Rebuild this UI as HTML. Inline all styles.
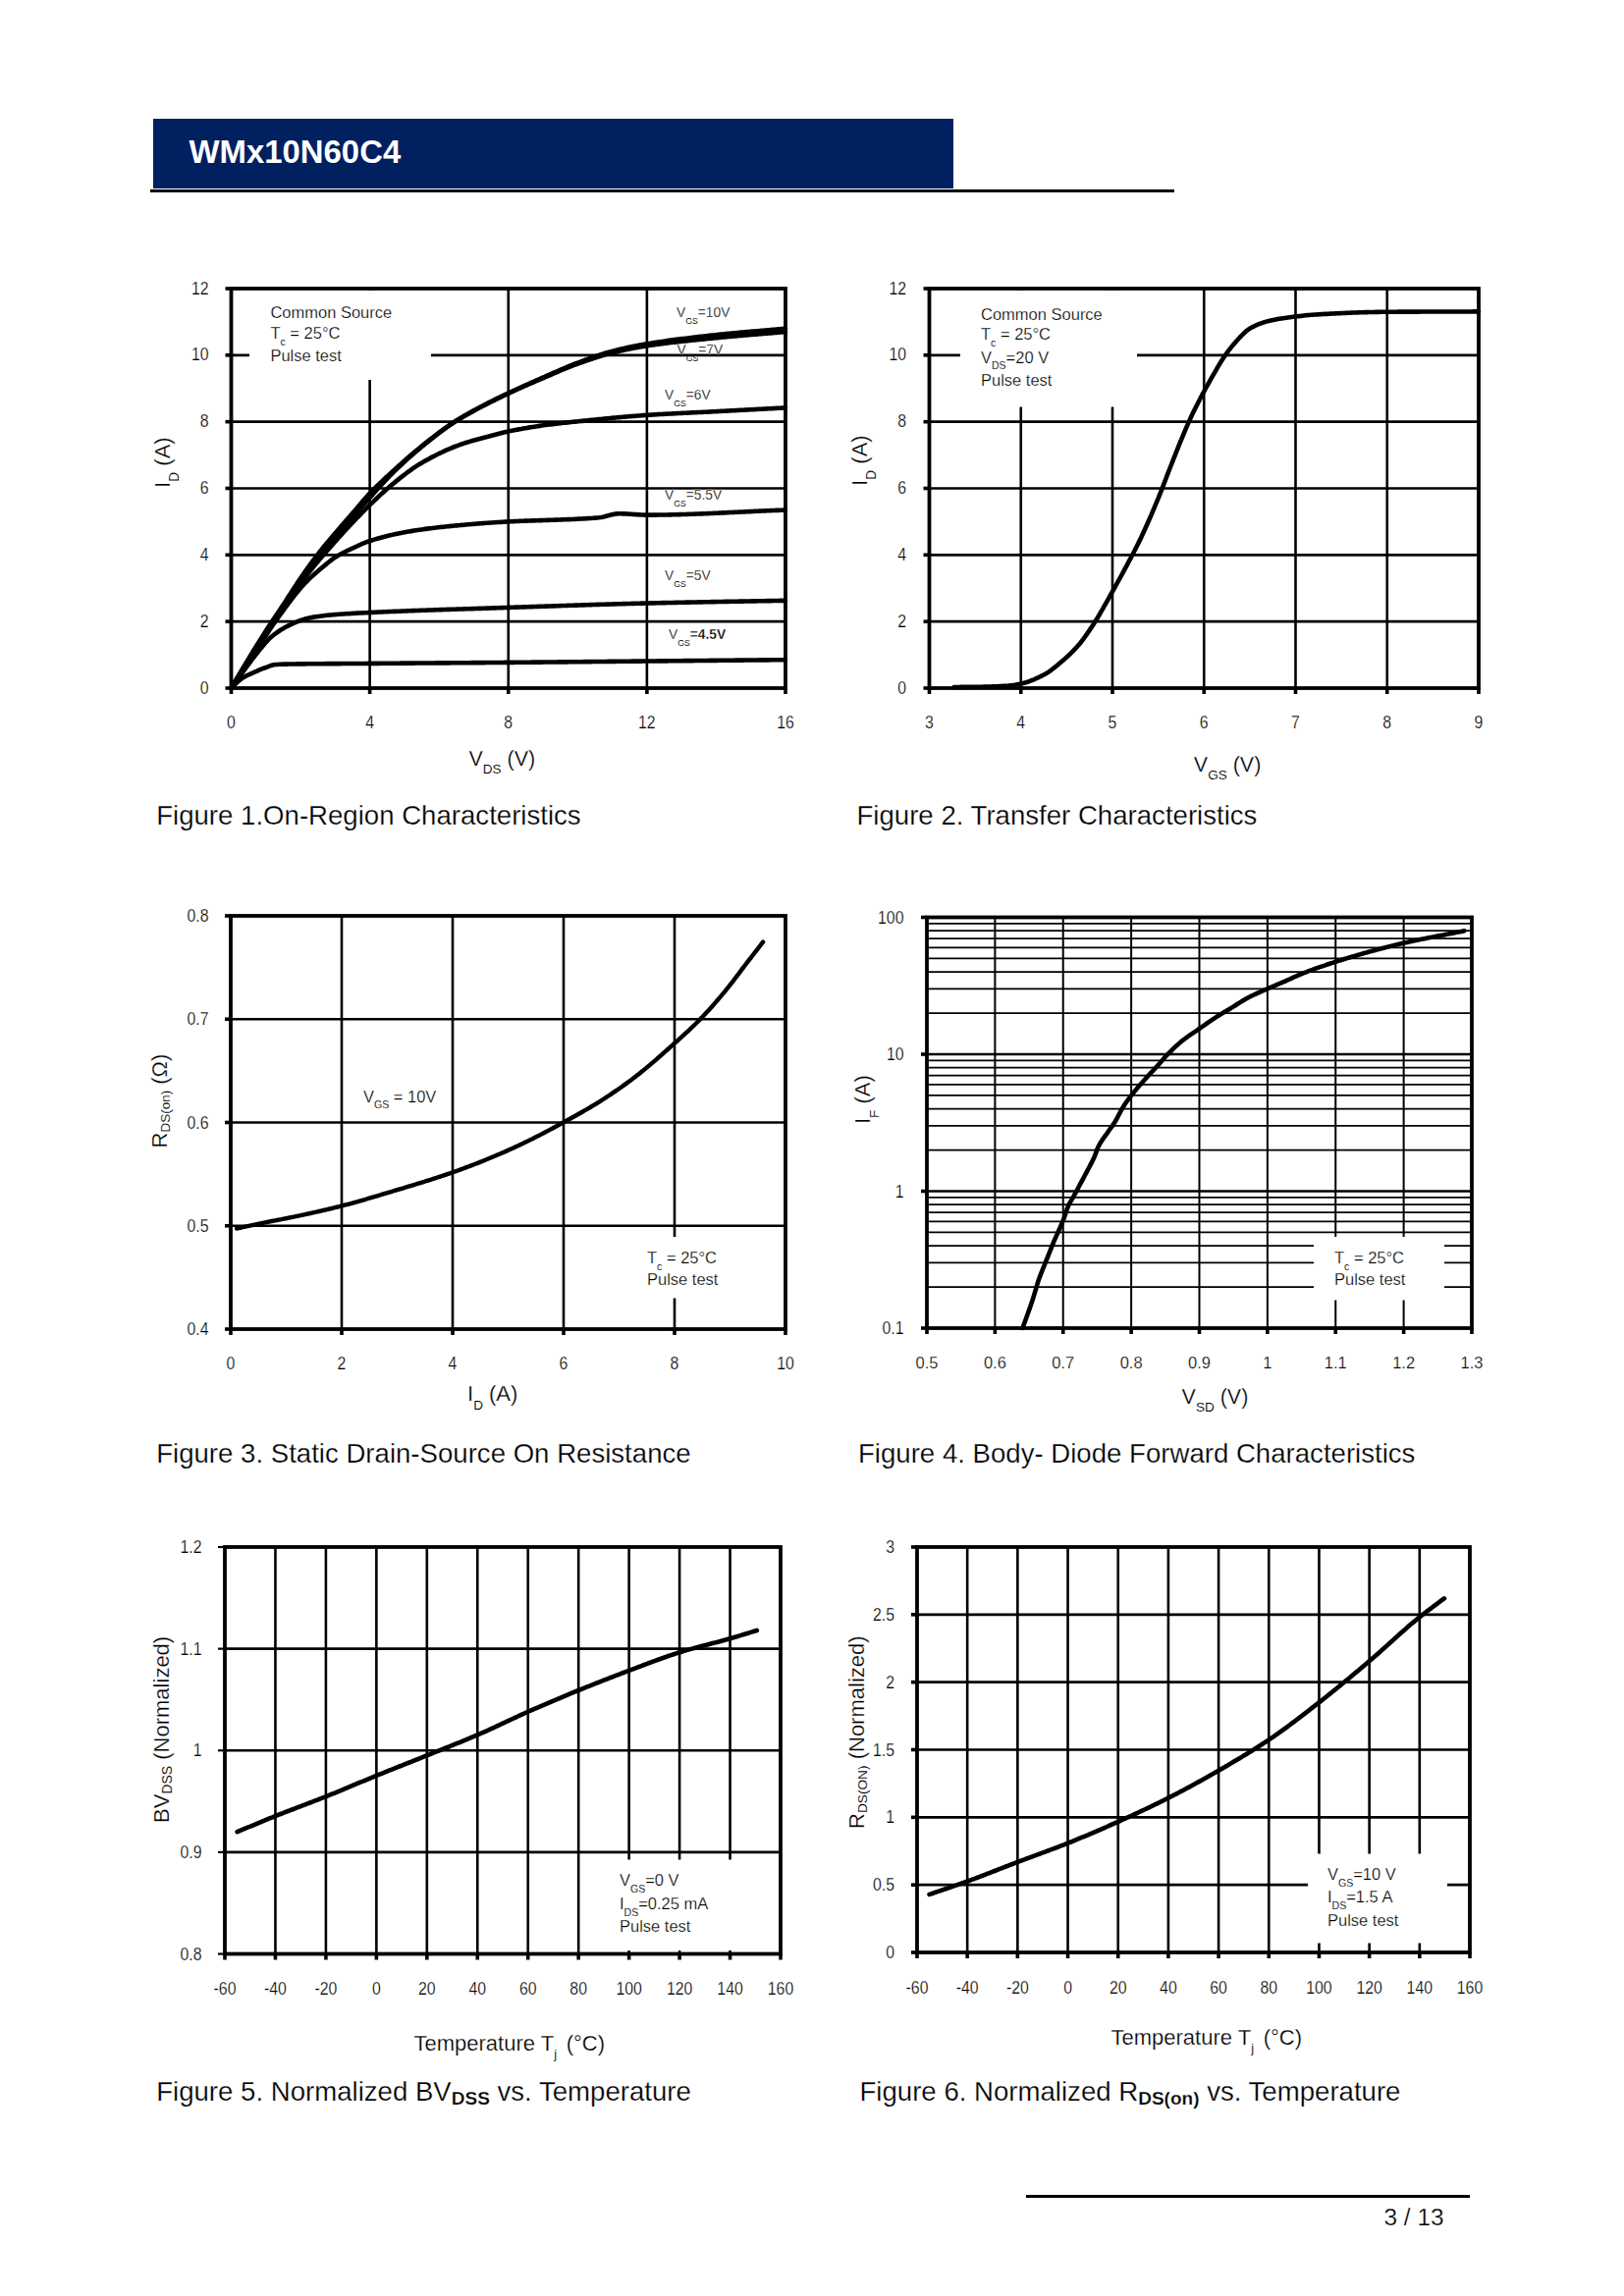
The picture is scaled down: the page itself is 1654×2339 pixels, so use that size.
<!DOCTYPE html><html><head><meta charset="utf-8"><title>WMx10N60C4</title><style>html,body{margin:0;padding:0;background:#fff;}body{width:1654px;height:2339px;overflow:hidden;position:relative;font-family:"Liberation Sans", sans-serif;}svg{position:absolute;left:0;top:0;}text{font-family:"Liberation Sans", sans-serif;fill:#000;}</style></head><body>
<svg width="1654" height="2339" viewBox="0 0 1654 2339">
<rect x="156" y="121" width="815" height="71" fill="#002060"/>
<rect x="153" y="193" width="1043" height="3" fill="#000"/>
<text x="192.5" y="166.3" font-size="32.9" font-weight="bold" style="fill:#fff">WMx10N60C4</text>
<rect x="1045" y="2236" width="452" height="3" fill="#000"/>
<text x="1409.5" y="2266.5" font-size="24.4" stroke="#fff" stroke-width="0.25">3 / 13</text>
<line x1="376.62" y1="294" x2="376.62" y2="701" stroke="#000" stroke-width="2.6"/>
<line x1="517.75" y1="294" x2="517.75" y2="701" stroke="#000" stroke-width="2.6"/>
<line x1="658.88" y1="294" x2="658.88" y2="701" stroke="#000" stroke-width="2.6"/>
<line x1="235.5" y1="633.17" x2="800" y2="633.17" stroke="#000" stroke-width="2.6"/>
<line x1="235.5" y1="565.33" x2="800" y2="565.33" stroke="#000" stroke-width="2.6"/>
<line x1="235.5" y1="497.5" x2="800" y2="497.5" stroke="#000" stroke-width="2.6"/>
<line x1="235.5" y1="429.67" x2="800" y2="429.67" stroke="#000" stroke-width="2.6"/>
<line x1="235.5" y1="361.83" x2="800" y2="361.83" stroke="#000" stroke-width="2.6"/>
<rect x="254" y="296" width="185" height="91" fill="#fff"/>
<rect x="235.5" y="294" width="564.5" height="407" fill="none" stroke="#000" stroke-width="3.8"/>
<line x1="235.5" y1="701" x2="235.5" y2="707" stroke="#000" stroke-width="3.6"/>
<line x1="376.62" y1="701" x2="376.62" y2="707" stroke="#000" stroke-width="3.6"/>
<line x1="517.75" y1="701" x2="517.75" y2="707" stroke="#000" stroke-width="3.6"/>
<line x1="658.88" y1="701" x2="658.88" y2="707" stroke="#000" stroke-width="3.6"/>
<line x1="800" y1="701" x2="800" y2="707" stroke="#000" stroke-width="3.6"/>
<line x1="229.5" y1="701" x2="235.5" y2="701" stroke="#000" stroke-width="3.6"/>
<line x1="229.5" y1="633.17" x2="235.5" y2="633.17" stroke="#000" stroke-width="3.6"/>
<line x1="229.5" y1="565.33" x2="235.5" y2="565.33" stroke="#000" stroke-width="3.6"/>
<line x1="229.5" y1="497.5" x2="235.5" y2="497.5" stroke="#000" stroke-width="3.6"/>
<line x1="229.5" y1="429.67" x2="235.5" y2="429.67" stroke="#000" stroke-width="3.6"/>
<line x1="229.5" y1="361.83" x2="235.5" y2="361.83" stroke="#000" stroke-width="3.6"/>
<line x1="229.5" y1="294" x2="235.5" y2="294" stroke="#000" stroke-width="3.6"/>
<path d="M235.5 701 L237.38 697.81 L239.26 694.61 L241.15 691.4 L243.03 688.19 L244.91 684.98 L246.79 681.79 L248.67 678.61 L250.55 675.45 L252.44 672.32 L254.32 669.22 L256.2 666.12 L258.08 663.04 L259.96 659.97 L261.84 656.92 L263.73 653.88 L265.61 650.87 L267.49 647.87 L269.37 644.9 L271.25 641.96 L273.13 639.04 L275.01 636.17 L276.9 633.34 L278.78 630.54 L280.66 627.76 L282.54 624.98 L284.42 622.19 L286.31 619.39 L288.19 616.56 L290.07 613.69 L291.95 610.79 L293.83 607.85 L295.71 604.91 L297.6 601.96 L299.48 599.03 L301.36 596.13 L303.24 593.26 L305.12 590.45 L307 587.71 L308.88 584.99 L310.77 582.29 L312.65 579.63 L314.53 576.99 L316.41 574.39 L318.29 571.82 L320.18 569.29 L322.06 566.8 L323.94 564.35 L325.82 561.95 L327.7 559.6 L329.58 557.28 L331.47 555 L333.35 552.74 L335.23 550.51 L337.11 548.28 L338.99 546.06 L340.87 543.84 L342.75 541.63 L344.64 539.43 L346.52 537.25 L348.4 535.08 L350.28 532.92 L352.16 530.76 L354.05 528.61 L355.93 526.45 L357.81 524.29 L359.69 522.12 L361.57 519.92 L363.45 517.7 L365.34 515.46 L367.22 513.23 L369.1 511.02 L370.98 508.84 L372.86 506.69 L374.74 504.61 L376.62 502.59 L378.51 500.63 L380.39 498.71 L382.27 496.82 L384.15 494.96 L386.03 493.14 L387.92 491.34 L389.8 489.56 L391.68 487.8 L393.56 486.05 L395.44 484.32 L397.32 482.59 L399.2 480.86 L401.09 479.14 L402.97 477.43 L404.85 475.73 L406.73 474.03 L408.61 472.34 L410.5 470.67 L412.38 469 L414.26 467.35 L416.14 465.71 L418.02 464.08 L419.9 462.47 L421.78 460.87 L423.67 459.3 L425.55 457.74 L427.43 456.19 L429.31 454.67 L431.19 453.16 L433.07 451.65 L434.96 450.15 L436.84 448.66 L438.72 447.17 L440.6 445.7 L442.48 444.24 L444.37 442.8 L446.25 441.37 L448.13 439.96 L450.01 438.56 L451.89 437.19 L453.77 435.84 L455.65 434.52 L457.54 433.21 L459.42 431.94 L461.3 430.69 L463.18 429.48 L465.06 428.29 L466.94 427.13 L468.83 425.99 L470.71 424.87 L472.59 423.77 L474.47 422.69 L476.35 421.63 L478.24 420.58 L480.12 419.55 L482 418.52 L483.88 417.5 L485.76 416.49 L487.64 415.48 L489.52 414.48 L491.41 413.5 L493.29 412.52 L495.17 411.55 L497.05 410.59 L498.93 409.64 L500.81 408.7 L502.7 407.76 L504.58 406.84 L506.46 405.92 L508.34 405 L510.22 404.09 L512.11 403.19 L513.99 402.29 L515.87 401.39 L517.75 400.5 L519.63 399.61 L521.51 398.73 L523.39 397.85 L525.28 396.97 L527.16 396.11 L529.04 395.24 L530.92 394.39 L532.8 393.53 L534.68 392.68 L536.57 391.83 L538.45 390.99 L540.33 390.15 L542.21 389.32 L544.09 388.48 L545.98 387.65 L547.86 386.82 L549.74 386 L551.62 385.17 L553.5 384.35 L555.38 383.53 L557.26 382.7 L559.15 381.87 L561.03 381.04 L562.91 380.21 L564.79 379.38 L566.67 378.56 L568.56 377.74 L570.44 376.92 L572.32 376.11 L574.2 375.31 L576.08 374.52 L577.96 373.73 L579.85 372.96 L581.73 372.2 L583.61 371.45 L585.49 370.71 L587.37 369.99 L589.25 369.28 L591.13 368.58 L593.02 367.87 L594.9 367.17 L596.78 366.48 L598.66 365.79 L600.54 365.11 L602.42 364.43 L604.31 363.77 L606.19 363.11 L608.07 362.47 L609.95 361.84 L611.83 361.22 L613.72 360.62 L615.6 360.03 L617.48 359.47 L619.36 358.92 L621.24 358.39 L623.12 357.89 L625 357.4 L626.89 356.92 L628.77 356.46 L630.65 356 L632.53 355.55 L634.41 355.12 L636.29 354.69 L638.18 354.27 L640.06 353.87 L641.94 353.47 L643.82 353.08 L645.7 352.7 L647.59 352.33 L649.47 351.97 L651.35 351.62 L653.23 351.27 L655.11 350.94 L656.99 350.62 L658.88 350.3 L660.76 349.99 L662.64 349.69 L664.52 349.39 L666.4 349.1 L668.28 348.81 L670.16 348.52 L672.05 348.24 L673.93 347.96 L675.81 347.69 L677.69 347.42 L679.57 347.15 L681.46 346.89 L683.34 346.63 L685.22 346.38 L687.1 346.13 L688.98 345.88 L690.86 345.63 L692.75 345.39 L694.63 345.15 L696.51 344.92 L698.39 344.68 L700.27 344.45 L702.15 344.22 L704.03 344 L705.92 343.78 L707.8 343.55 L709.68 343.34 L711.56 343.12 L713.44 342.9 L715.33 342.69 L717.21 342.48 L719.09 342.27 L720.97 342.06 L722.85 341.86 L724.73 341.65 L726.62 341.45 L728.5 341.25 L730.38 341.04 L732.26 340.85 L734.14 340.65 L736.02 340.46 L737.9 340.27 L739.79 340.08 L741.67 339.89 L743.55 339.71 L745.43 339.53 L747.31 339.35 L749.2 339.18 L751.08 339 L752.96 338.83 L754.84 338.66 L756.72 338.49 L758.6 338.32 L760.49 338.15 L762.37 337.99 L764.25 337.82 L766.13 337.66 L768.01 337.5 L769.89 337.33 L771.77 337.17 L773.66 337.01 L775.54 336.85 L777.42 336.68 L779.3 336.52 L781.18 336.36 L783.06 336.2 L784.95 336.03 L786.83 335.87 L788.71 335.71 L790.59 335.54 L792.47 335.38 L794.36 335.21 L796.24 335.04 L798.12 334.87 L800 334.7" fill="none" stroke="#000" stroke-width="4.6" stroke-linecap="round" stroke-linejoin="round"/>
<path d="M235.5 701 L237.38 697.91 L239.26 694.81 L241.15 691.7 L243.03 688.59 L244.91 685.49 L246.79 682.4 L248.67 679.33 L250.55 676.29 L252.44 673.29 L254.32 670.33 L256.2 667.41 L258.08 664.53 L259.96 661.67 L261.84 658.83 L263.73 656.01 L265.61 653.18 L267.49 650.35 L269.37 647.51 L271.25 644.65 L273.13 641.76 L275.01 638.83 L276.9 635.89 L278.78 632.93 L280.66 629.96 L282.54 627.01 L284.42 624.06 L286.31 621.15 L288.19 618.26 L290.07 615.4 L291.95 612.55 L293.83 609.71 L295.71 606.89 L297.6 604.08 L299.48 601.3 L301.36 598.54 L303.24 595.81 L305.12 593.12 L307 590.46 L308.88 587.83 L310.77 585.21 L312.65 582.62 L314.53 580.05 L316.41 577.51 L318.29 575.01 L320.18 572.55 L322.06 570.13 L323.94 567.75 L325.82 565.43 L327.7 563.15 L329.58 560.91 L331.47 558.71 L333.35 556.53 L335.23 554.37 L337.11 552.21 L338.99 550.06 L340.87 547.9 L342.75 545.74 L344.64 543.59 L346.52 541.45 L348.4 539.32 L350.28 537.2 L352.16 535.08 L354.05 532.96 L355.93 530.83 L357.81 528.69 L359.69 526.54 L361.57 524.37 L363.45 522.18 L365.34 519.99 L367.22 517.8 L369.1 515.61 L370.98 513.43 L372.86 511.26 L374.74 509.11 L376.62 507 L378.51 504.89 L380.39 502.79 L382.27 500.69 L384.15 498.59 L386.03 496.51 L387.92 494.44 L389.8 492.39 L391.68 490.37 L393.56 488.37 L395.44 486.4 L397.32 484.48 L399.2 482.59 L401.09 480.73 L402.97 478.9 L404.85 477.09 L406.73 475.3 L408.61 473.53 L410.5 471.78 L412.38 470.05 L414.26 468.34 L416.14 466.65 L418.02 464.98 L419.9 463.33 L421.78 461.7 L423.67 460.08 L425.55 458.49 L427.43 456.91 L429.31 455.35 L431.19 453.8 L433.07 452.26 L434.96 450.72 L436.84 449.2 L438.72 447.69 L440.6 446.2 L442.48 444.72 L444.37 443.25 L446.25 441.8 L448.13 440.38 L450.01 438.97 L451.89 437.58 L453.77 436.22 L455.65 434.88 L457.54 433.57 L459.42 432.29 L461.3 431.04 L463.18 429.81 L465.06 428.62 L466.94 427.45 L468.83 426.31 L470.71 425.2 L472.59 424.1 L474.47 423.02 L476.35 421.96 L478.24 420.91 L480.12 419.88 L482 418.86 L483.88 417.84 L485.76 416.83 L487.64 415.82 L489.52 414.82 L491.41 413.83 L493.29 412.85 L495.17 411.88 L497.05 410.92 L498.93 409.97 L500.81 409.02 L502.7 408.08 L504.58 407.15 L506.46 406.23 L508.34 405.32 L510.22 404.41 L512.11 403.51 L513.99 402.61 L515.87 401.72 L517.75 400.84 L519.63 399.96 L521.51 399.09 L523.39 398.22 L525.28 397.37 L527.16 396.51 L529.04 395.67 L530.92 394.83 L532.8 393.99 L534.68 393.16 L536.57 392.34 L538.45 391.51 L540.33 390.7 L542.21 389.88 L544.09 389.07 L545.98 388.26 L547.86 387.45 L549.74 386.64 L551.62 385.84 L553.5 385.03 L555.38 384.23 L557.26 383.42 L559.15 382.6 L561.03 381.79 L562.91 380.97 L564.79 380.16 L566.67 379.35 L568.56 378.54 L570.44 377.74 L572.32 376.95 L574.2 376.16 L576.08 375.38 L577.96 374.62 L579.85 373.86 L581.73 373.12 L583.61 372.4 L585.49 371.69 L587.37 370.99 L589.25 370.31 L591.13 369.64 L593.02 368.97 L594.9 368.31 L596.78 367.65 L598.66 367 L600.54 366.36 L602.42 365.72 L604.31 365.1 L606.19 364.48 L608.07 363.88 L609.95 363.29 L611.83 362.71 L613.72 362.15 L615.6 361.6 L617.48 361.07 L619.36 360.55 L621.24 360.05 L623.12 359.58 L625 359.11 L626.89 358.66 L628.77 358.21 L630.65 357.78 L632.53 357.35 L634.41 356.93 L636.29 356.51 L638.18 356.11 L640.06 355.72 L641.94 355.33 L643.82 354.96 L645.7 354.6 L647.59 354.24 L649.47 353.9 L651.35 353.56 L653.23 353.24 L655.11 352.93 L656.99 352.63 L658.88 352.34 L660.76 352.05 L662.64 351.78 L664.52 351.51 L666.4 351.24 L668.28 350.98 L670.16 350.72 L672.05 350.47 L673.93 350.22 L675.81 349.98 L677.69 349.74 L679.57 349.51 L681.46 349.27 L683.34 349.05 L685.22 348.82 L687.1 348.6 L688.98 348.39 L690.86 348.17 L692.75 347.96 L694.63 347.75 L696.51 347.55 L698.39 347.34 L700.27 347.14 L702.15 346.94 L704.03 346.74 L705.92 346.55 L707.8 346.36 L709.68 346.16 L711.56 345.97 L713.44 345.78 L715.33 345.59 L717.21 345.41 L719.09 345.22 L720.97 345.03 L722.85 344.85 L724.73 344.66 L726.62 344.48 L728.5 344.29 L730.38 344.1 L732.26 343.92 L734.14 343.74 L736.02 343.56 L737.9 343.38 L739.79 343.21 L741.67 343.04 L743.55 342.86 L745.43 342.69 L747.31 342.53 L749.2 342.36 L751.08 342.2 L752.96 342.03 L754.84 341.87 L756.72 341.71 L758.6 341.55 L760.49 341.39 L762.37 341.23 L764.25 341.07 L766.13 340.92 L768.01 340.76 L769.89 340.61 L771.77 340.45 L773.66 340.29 L775.54 340.14 L777.42 339.98 L779.3 339.83 L781.18 339.67 L783.06 339.52 L784.95 339.36 L786.83 339.21 L788.71 339.05 L790.59 338.89 L792.47 338.73 L794.36 338.57 L796.24 338.41 L798.12 338.25 L800 338.09" fill="none" stroke="#000" stroke-width="4.6" stroke-linecap="round" stroke-linejoin="round"/>
<path d="M235.5 701 L237.38 697.95 L239.26 694.89 L241.15 691.81 L243.03 688.74 L244.91 685.67 L246.79 682.62 L248.67 679.59 L250.55 676.58 L252.44 673.61 L254.32 670.69 L256.2 667.8 L258.08 664.95 L259.96 662.13 L261.84 659.32 L263.73 656.53 L265.61 653.74 L267.49 650.94 L269.37 648.13 L271.25 645.3 L273.13 642.45 L275.01 639.55 L276.9 636.63 L278.78 633.69 L280.66 630.75 L282.54 627.83 L284.42 624.93 L286.31 622.07 L288.19 619.27 L290.07 616.51 L291.95 613.78 L293.83 611.07 L295.71 608.38 L297.6 605.72 L299.48 603.09 L301.36 600.5 L303.24 597.94 L305.12 595.41 L307 592.92 L308.88 590.47 L310.77 588.05 L312.65 585.67 L314.53 583.31 L316.41 580.98 L318.29 578.66 L320.18 576.37 L322.06 574.1 L323.94 571.83 L325.82 569.59 L327.7 567.37 L329.58 565.17 L331.47 562.99 L333.35 560.83 L335.23 558.68 L337.11 556.54 L338.99 554.42 L340.87 552.3 L342.75 550.18 L344.64 548.08 L346.52 545.98 L348.4 543.89 L350.28 541.82 L352.16 539.76 L354.05 537.72 L355.93 535.69 L357.81 533.68 L359.69 531.69 L361.57 529.71 L363.45 527.74 L365.34 525.79 L367.22 523.85 L369.1 521.93 L370.98 520.03 L372.86 518.15 L374.74 516.29 L376.62 514.46 L378.51 512.64 L380.39 510.82 L382.27 509.02 L384.15 507.22 L386.03 505.44 L387.92 503.68 L389.8 501.94 L391.68 500.23 L393.56 498.55 L395.44 496.9 L397.32 495.29 L399.2 493.72 L401.09 492.18 L402.97 490.65 L404.85 489.13 L406.73 487.63 L408.61 486.14 L410.5 484.66 L412.38 483.22 L414.26 481.79 L416.14 480.4 L418.02 479.03 L419.9 477.7 L421.78 476.41 L423.67 475.15 L425.55 473.94 L427.43 472.77 L429.31 471.65 L431.19 470.57 L433.07 469.5 L434.96 468.44 L436.84 467.41 L438.72 466.39 L440.6 465.4 L442.48 464.42 L444.37 463.46 L446.25 462.52 L448.13 461.6 L450.01 460.7 L451.89 459.82 L453.77 458.96 L455.65 458.12 L457.54 457.31 L459.42 456.52 L461.3 455.75 L463.18 455 L465.06 454.28 L466.94 453.58 L468.83 452.9 L470.71 452.25 L472.59 451.63 L474.47 451.02 L476.35 450.44 L478.24 449.87 L480.12 449.33 L482 448.79 L483.88 448.27 L485.76 447.75 L487.64 447.25 L489.52 446.74 L491.41 446.25 L493.29 445.75 L495.17 445.25 L497.05 444.75 L498.93 444.24 L500.81 443.73 L502.7 443.22 L504.58 442.72 L506.46 442.22 L508.34 441.73 L510.22 441.25 L512.11 440.78 L513.99 440.34 L515.87 439.91 L517.75 439.5 L519.63 439.11 L521.51 438.73 L523.39 438.36 L525.28 437.99 L527.16 437.63 L529.04 437.28 L530.92 436.93 L532.8 436.59 L534.68 436.26 L536.57 435.94 L538.45 435.62 L540.33 435.31 L542.21 435.01 L544.09 434.71 L545.98 434.42 L547.86 434.14 L549.74 433.86 L551.62 433.59 L553.5 433.33 L555.38 433.08 L557.26 432.83 L559.15 432.59 L561.03 432.35 L562.91 432.12 L564.79 431.89 L566.67 431.67 L568.56 431.45 L570.44 431.23 L572.32 431.02 L574.2 430.82 L576.08 430.61 L577.96 430.41 L579.85 430.21 L581.73 430.01 L583.61 429.81 L585.49 429.62 L587.37 429.42 L589.25 429.23 L591.13 429.04 L593.02 428.84 L594.9 428.65 L596.78 428.45 L598.66 428.26 L600.54 428.07 L602.42 427.88 L604.31 427.68 L606.19 427.49 L608.07 427.3 L609.95 427.11 L611.83 426.93 L613.72 426.74 L615.6 426.56 L617.48 426.37 L619.36 426.19 L621.24 426.01 L623.12 425.83 L625 425.65 L626.89 425.48 L628.77 425.3 L630.65 425.13 L632.53 424.96 L634.41 424.8 L636.29 424.63 L638.18 424.47 L640.06 424.31 L641.94 424.15 L643.82 424 L645.7 423.85 L647.59 423.7 L649.47 423.56 L651.35 423.42 L653.23 423.28 L655.11 423.14 L656.99 423.01 L658.88 422.88 L660.76 422.76 L662.64 422.64 L664.52 422.52 L666.4 422.4 L668.28 422.29 L670.16 422.17 L672.05 422.06 L673.93 421.96 L675.81 421.85 L677.69 421.75 L679.57 421.64 L681.46 421.54 L683.34 421.44 L685.22 421.34 L687.1 421.25 L688.98 421.15 L690.86 421.06 L692.75 420.96 L694.63 420.87 L696.51 420.78 L698.39 420.69 L700.27 420.59 L702.15 420.5 L704.03 420.41 L705.92 420.32 L707.8 420.23 L709.68 420.14 L711.56 420.05 L713.44 419.96 L715.33 419.87 L717.21 419.77 L719.09 419.68 L720.97 419.59 L722.85 419.49 L724.73 419.4 L726.62 419.3 L728.5 419.2 L730.38 419.1 L732.26 419 L734.14 418.9 L736.02 418.8 L737.9 418.7 L739.79 418.61 L741.67 418.51 L743.55 418.41 L745.43 418.31 L747.31 418.21 L749.2 418.11 L751.08 418.01 L752.96 417.91 L754.84 417.81 L756.72 417.71 L758.6 417.61 L760.49 417.51 L762.37 417.41 L764.25 417.31 L766.13 417.21 L768.01 417.11 L769.89 417.01 L771.77 416.91 L773.66 416.81 L775.54 416.72 L777.42 416.62 L779.3 416.52 L781.18 416.42 L783.06 416.32 L784.95 416.22 L786.83 416.12 L788.71 416.02 L790.59 415.92 L792.47 415.82 L794.36 415.72 L796.24 415.62 L798.12 415.52 L800 415.42" fill="none" stroke="#000" stroke-width="4.6" stroke-linecap="round" stroke-linejoin="round"/>
<path d="M235.5 701 L237.38 698.1 L239.26 695.2 L241.15 692.3 L243.03 689.39 L244.91 686.49 L246.79 683.59 L248.67 680.7 L250.55 677.81 L252.44 674.94 L254.32 672.08 L256.2 669.22 L258.08 666.36 L259.96 663.5 L261.84 660.66 L263.73 657.82 L265.61 654.99 L267.49 652.18 L269.37 649.38 L271.25 646.6 L273.13 643.84 L275.01 641.08 L276.9 638.32 L278.78 635.57 L280.66 632.85 L282.54 630.15 L284.42 627.48 L286.31 624.86 L288.19 622.29 L290.07 619.75 L291.95 617.21 L293.83 614.67 L295.71 612.15 L297.6 609.66 L299.48 607.21 L301.36 604.82 L303.24 602.48 L305.12 600.21 L307 598.03 L308.88 595.94 L310.77 593.95 L312.65 592.03 L314.53 590.18 L316.41 588.39 L318.29 586.65 L320.18 584.96 L322.06 583.31 L323.94 581.68 L325.82 580.09 L327.7 578.51 L329.58 576.93 L331.47 575.36 L333.35 573.82 L335.23 572.31 L337.11 570.85 L338.99 569.45 L340.87 568.14 L342.75 566.91 L344.64 565.77 L346.52 564.7 L348.4 563.68 L350.28 562.7 L352.16 561.77 L354.05 560.86 L355.93 559.97 L357.81 559.1 L359.69 558.22 L361.57 557.35 L363.45 556.47 L365.34 555.61 L367.22 554.77 L369.1 553.95 L370.98 553.17 L372.86 552.42 L374.74 551.73 L376.62 551.09 L378.51 550.49 L380.39 549.9 L382.27 549.33 L384.15 548.78 L386.03 548.24 L387.92 547.72 L389.8 547.21 L391.68 546.72 L393.56 546.24 L395.44 545.77 L397.32 545.32 L399.2 544.88 L401.09 544.46 L402.97 544.05 L404.85 543.65 L406.73 543.26 L408.61 542.89 L410.5 542.53 L412.38 542.18 L414.26 541.85 L416.14 541.52 L418.02 541.19 L419.9 540.88 L421.78 540.57 L423.67 540.28 L425.55 539.99 L427.43 539.7 L429.31 539.43 L431.19 539.16 L433.07 538.9 L434.96 538.65 L436.84 538.4 L438.72 538.16 L440.6 537.93 L442.48 537.71 L444.37 537.49 L446.25 537.28 L448.13 537.08 L450.01 536.88 L451.89 536.68 L453.77 536.49 L455.65 536.29 L457.54 536.1 L459.42 535.91 L461.3 535.73 L463.18 535.55 L465.06 535.36 L466.94 535.19 L468.83 535.01 L470.71 534.84 L472.59 534.67 L474.47 534.5 L476.35 534.33 L478.24 534.17 L480.12 534.01 L482 533.85 L483.88 533.7 L485.76 533.54 L487.64 533.39 L489.52 533.25 L491.41 533.11 L493.29 532.96 L495.17 532.83 L497.05 532.69 L498.93 532.56 L500.81 532.43 L502.7 532.31 L504.58 532.18 L506.46 532.07 L508.34 531.95 L510.22 531.84 L512.11 531.73 L513.99 531.62 L515.87 531.52 L517.75 531.42 L519.63 531.32 L521.51 531.23 L523.39 531.14 L525.28 531.05 L527.16 530.97 L529.04 530.89 L530.92 530.81 L532.8 530.74 L534.68 530.67 L536.57 530.6 L538.45 530.53 L540.33 530.46 L542.21 530.4 L544.09 530.33 L545.98 530.27 L547.86 530.21 L549.74 530.15 L551.62 530.09 L553.5 530.03 L555.38 529.97 L557.26 529.91 L559.15 529.85 L561.03 529.78 L562.91 529.72 L564.79 529.66 L566.67 529.6 L568.56 529.53 L570.44 529.46 L572.32 529.39 L574.2 529.32 L576.08 529.25 L577.96 529.17 L579.85 529.09 L581.73 529.01 L583.61 528.93 L585.49 528.84 L587.37 528.75 L589.25 528.66 L591.13 528.56 L593.02 528.47 L594.9 528.37 L596.78 528.27 L598.66 528.16 L600.54 528.05 L602.42 527.92 L604.31 527.79 L606.19 527.64 L608.07 527.48 L609.95 527.3 L611.83 527.03 L613.72 526.66 L615.6 526.23 L617.48 525.75 L619.36 525.24 L621.24 524.75 L623.12 524.29 L625 523.88 L626.89 523.56 L628.77 523.35 L630.65 523.28 L632.53 523.29 L634.41 523.34 L636.29 523.42 L638.18 523.51 L640.06 523.63 L641.94 523.75 L643.82 523.89 L645.7 524.02 L647.59 524.16 L649.47 524.28 L651.35 524.4 L653.23 524.49 L655.11 524.57 L656.99 524.62 L658.88 524.63 L660.76 524.63 L662.64 524.63 L664.52 524.62 L666.4 524.61 L668.28 524.59 L670.16 524.57 L672.05 524.55 L673.93 524.52 L675.81 524.5 L677.69 524.46 L679.57 524.43 L681.46 524.39 L683.34 524.35 L685.22 524.31 L687.1 524.27 L688.98 524.22 L690.86 524.17 L692.75 524.12 L694.63 524.06 L696.51 524.01 L698.39 523.95 L700.27 523.89 L702.15 523.82 L704.03 523.76 L705.92 523.69 L707.8 523.62 L709.68 523.55 L711.56 523.48 L713.44 523.41 L715.33 523.33 L717.21 523.25 L719.09 523.18 L720.97 523.1 L722.85 523.02 L724.73 522.93 L726.62 522.85 L728.5 522.77 L730.38 522.68 L732.26 522.6 L734.14 522.51 L736.02 522.42 L737.9 522.34 L739.79 522.25 L741.67 522.16 L743.55 522.07 L745.43 521.98 L747.31 521.89 L749.2 521.8 L751.08 521.71 L752.96 521.62 L754.84 521.53 L756.72 521.44 L758.6 521.35 L760.49 521.26 L762.37 521.17 L764.25 521.08 L766.13 520.99 L768.01 520.9 L769.89 520.81 L771.77 520.73 L773.66 520.64 L775.54 520.55 L777.42 520.47 L779.3 520.39 L781.18 520.3 L783.06 520.22 L784.95 520.14 L786.83 520.06 L788.71 519.98 L790.59 519.91 L792.47 519.83 L794.36 519.76 L796.24 519.69 L798.12 519.61 L800 519.55" fill="none" stroke="#000" stroke-width="4.6" stroke-linecap="round" stroke-linejoin="round"/>
<path d="M235.5 701 L237.38 698.4 L239.26 695.8 L241.15 693.2 L243.03 690.61 L244.91 688.02 L246.79 685.45 L248.67 682.85 L250.55 680.24 L252.44 677.62 L254.32 675.03 L256.2 672.48 L258.08 669.99 L259.96 667.58 L261.84 665.24 L263.73 662.89 L265.61 660.55 L267.49 658.23 L269.37 655.98 L271.25 653.83 L273.13 651.81 L275.01 649.95 L276.9 648.28 L278.78 646.78 L280.66 645.36 L282.54 644.01 L284.42 642.74 L286.31 641.53 L288.19 640.39 L290.07 639.31 L291.95 638.3 L293.83 637.35 L295.71 636.45 L297.6 635.58 L299.48 634.74 L301.36 633.93 L303.24 633.15 L305.12 632.42 L307 631.73 L308.88 631.1 L310.77 630.54 L312.65 630.05 L314.53 629.62 L316.41 629.24 L318.29 628.88 L320.18 628.54 L322.06 628.22 L323.94 627.93 L325.82 627.66 L327.7 627.41 L329.58 627.18 L331.47 626.97 L333.35 626.78 L335.23 626.6 L337.11 626.43 L338.99 626.27 L340.87 626.12 L342.75 625.97 L344.64 625.83 L346.52 625.69 L348.4 625.56 L350.28 625.43 L352.16 625.31 L354.05 625.2 L355.93 625.08 L357.81 624.97 L359.69 624.87 L361.57 624.76 L363.45 624.66 L365.34 624.57 L367.22 624.47 L369.1 624.38 L370.98 624.28 L372.86 624.19 L374.74 624.1 L376.62 624.01 L378.51 623.92 L380.39 623.83 L382.27 623.74 L384.15 623.65 L386.03 623.57 L387.92 623.48 L389.8 623.4 L391.68 623.31 L393.56 623.23 L395.44 623.15 L397.32 623.07 L399.2 622.99 L401.09 622.91 L402.97 622.83 L404.85 622.76 L406.73 622.68 L408.61 622.61 L410.5 622.53 L412.38 622.46 L414.26 622.38 L416.14 622.31 L418.02 622.24 L419.9 622.17 L421.78 622.1 L423.67 622.03 L425.55 621.96 L427.43 621.89 L429.31 621.82 L431.19 621.76 L433.07 621.69 L434.96 621.62 L436.84 621.56 L438.72 621.49 L440.6 621.43 L442.48 621.36 L444.37 621.3 L446.25 621.23 L448.13 621.17 L450.01 621.11 L451.89 621.05 L453.77 620.98 L455.65 620.92 L457.54 620.86 L459.42 620.8 L461.3 620.74 L463.18 620.68 L465.06 620.62 L466.94 620.56 L468.83 620.49 L470.71 620.43 L472.59 620.37 L474.47 620.31 L476.35 620.25 L478.24 620.2 L480.12 620.14 L482 620.08 L483.88 620.02 L485.76 619.96 L487.64 619.9 L489.52 619.84 L491.41 619.78 L493.29 619.72 L495.17 619.66 L497.05 619.6 L498.93 619.54 L500.81 619.48 L502.7 619.42 L504.58 619.35 L506.46 619.29 L508.34 619.23 L510.22 619.17 L512.11 619.11 L513.99 619.05 L515.87 618.98 L517.75 618.92 L519.63 618.86 L521.51 618.8 L523.39 618.73 L525.28 618.67 L527.16 618.61 L529.04 618.54 L530.92 618.48 L532.8 618.41 L534.68 618.35 L536.57 618.29 L538.45 618.22 L540.33 618.16 L542.21 618.09 L544.09 618.03 L545.98 617.97 L547.86 617.9 L549.74 617.84 L551.62 617.77 L553.5 617.71 L555.38 617.65 L557.26 617.58 L559.15 617.52 L561.03 617.45 L562.91 617.39 L564.79 617.33 L566.67 617.26 L568.56 617.2 L570.44 617.14 L572.32 617.07 L574.2 617.01 L576.08 616.95 L577.96 616.89 L579.85 616.82 L581.73 616.76 L583.61 616.7 L585.49 616.64 L587.37 616.58 L589.25 616.52 L591.13 616.45 L593.02 616.39 L594.9 616.33 L596.78 616.27 L598.66 616.21 L600.54 616.15 L602.42 616.09 L604.31 616.04 L606.19 615.98 L608.07 615.92 L609.95 615.86 L611.83 615.8 L613.72 615.75 L615.6 615.69 L617.48 615.63 L619.36 615.58 L621.24 615.52 L623.12 615.47 L625 615.41 L626.89 615.36 L628.77 615.3 L630.65 615.25 L632.53 615.2 L634.41 615.14 L636.29 615.09 L638.18 615.04 L640.06 614.99 L641.94 614.94 L643.82 614.89 L645.7 614.84 L647.59 614.79 L649.47 614.74 L651.35 614.7 L653.23 614.65 L655.11 614.6 L656.99 614.56 L658.88 614.51 L660.76 614.47 L662.64 614.42 L664.52 614.38 L666.4 614.34 L668.28 614.29 L670.16 614.25 L672.05 614.21 L673.93 614.17 L675.81 614.13 L677.69 614.09 L679.57 614.05 L681.46 614.01 L683.34 613.97 L685.22 613.93 L687.1 613.89 L688.98 613.85 L690.86 613.81 L692.75 613.77 L694.63 613.73 L696.51 613.7 L698.39 613.66 L700.27 613.62 L702.15 613.59 L704.03 613.55 L705.92 613.51 L707.8 613.48 L709.68 613.44 L711.56 613.4 L713.44 613.37 L715.33 613.33 L717.21 613.3 L719.09 613.26 L720.97 613.23 L722.85 613.19 L724.73 613.16 L726.62 613.13 L728.5 613.09 L730.38 613.06 L732.26 613.02 L734.14 612.99 L736.02 612.96 L737.9 612.92 L739.79 612.89 L741.67 612.86 L743.55 612.82 L745.43 612.79 L747.31 612.76 L749.2 612.72 L751.08 612.69 L752.96 612.66 L754.84 612.62 L756.72 612.59 L758.6 612.56 L760.49 612.52 L762.37 612.49 L764.25 612.46 L766.13 612.42 L768.01 612.39 L769.89 612.35 L771.77 612.32 L773.66 612.29 L775.54 612.25 L777.42 612.22 L779.3 612.19 L781.18 612.15 L783.06 612.12 L784.95 612.08 L786.83 612.05 L788.71 612.01 L790.59 611.98 L792.47 611.94 L794.36 611.91 L796.24 611.87 L798.12 611.84 L800 611.8" fill="none" stroke="#000" stroke-width="4.6" stroke-linecap="round" stroke-linejoin="round"/>
<path d="M235.5 701 L237.38 699.24 L239.26 697.39 L241.15 695.54 L243.03 693.78 L244.91 692.18 L246.79 690.83 L248.67 689.69 L250.55 688.67 L252.44 687.75 L254.32 686.88 L256.2 686.05 L258.08 685.22 L259.96 684.37 L261.84 683.54 L263.73 682.73 L265.61 681.94 L267.49 681.19 L269.37 680.48 L271.25 679.81 L273.13 679.1 L275.01 678.4 L276.9 677.77 L278.78 677.3 L280.66 677.06 L282.54 676.93 L284.42 676.82 L286.31 676.74 L288.19 676.67 L290.07 676.62 L291.95 676.58 L293.83 676.55 L295.71 676.52 L297.6 676.49 L299.48 676.47 L301.36 676.44 L303.24 676.42 L305.12 676.4 L307 676.37 L308.88 676.35 L310.77 676.33 L312.65 676.31 L314.53 676.3 L316.41 676.28 L318.29 676.26 L320.18 676.25 L322.06 676.23 L323.94 676.22 L325.82 676.2 L327.7 676.19 L329.58 676.18 L331.47 676.17 L333.35 676.15 L335.23 676.14 L337.11 676.13 L338.99 676.12 L340.87 676.11 L342.75 676.1 L344.64 676.09 L346.52 676.08 L348.4 676.07 L350.28 676.06 L352.16 676.05 L354.05 676.04 L355.93 676.03 L357.81 676.02 L359.69 676.01 L361.57 676 L363.45 675.99 L365.34 675.98 L367.22 675.97 L369.1 675.95 L370.98 675.94 L372.86 675.93 L374.74 675.92 L376.62 675.9 L378.51 675.89 L380.39 675.87 L382.27 675.86 L384.15 675.85 L386.03 675.83 L387.92 675.82 L389.8 675.8 L391.68 675.79 L393.56 675.78 L395.44 675.76 L397.32 675.75 L399.2 675.74 L401.09 675.72 L402.97 675.71 L404.85 675.7 L406.73 675.68 L408.61 675.67 L410.5 675.66 L412.38 675.64 L414.26 675.63 L416.14 675.62 L418.02 675.6 L419.9 675.59 L421.78 675.58 L423.67 675.56 L425.55 675.55 L427.43 675.54 L429.31 675.53 L431.19 675.51 L433.07 675.5 L434.96 675.49 L436.84 675.47 L438.72 675.46 L440.6 675.45 L442.48 675.44 L444.37 675.42 L446.25 675.41 L448.13 675.4 L450.01 675.38 L451.89 675.37 L453.77 675.36 L455.65 675.35 L457.54 675.33 L459.42 675.32 L461.3 675.31 L463.18 675.29 L465.06 675.28 L466.94 675.27 L468.83 675.25 L470.71 675.24 L472.59 675.23 L474.47 675.21 L476.35 675.2 L478.24 675.19 L480.12 675.17 L482 675.16 L483.88 675.15 L485.76 675.13 L487.64 675.12 L489.52 675.1 L491.41 675.09 L493.29 675.08 L495.17 675.06 L497.05 675.05 L498.93 675.03 L500.81 675.02 L502.7 675 L504.58 674.99 L506.46 674.98 L508.34 674.96 L510.22 674.95 L512.11 674.93 L513.99 674.91 L515.87 674.9 L517.75 674.88 L519.63 674.87 L521.51 674.85 L523.39 674.84 L525.28 674.82 L527.16 674.8 L529.04 674.79 L530.92 674.77 L532.8 674.76 L534.68 674.74 L536.57 674.72 L538.45 674.71 L540.33 674.69 L542.21 674.67 L544.09 674.65 L545.98 674.64 L547.86 674.62 L549.74 674.6 L551.62 674.59 L553.5 674.57 L555.38 674.55 L557.26 674.53 L559.15 674.51 L561.03 674.5 L562.91 674.48 L564.79 674.46 L566.67 674.44 L568.56 674.42 L570.44 674.41 L572.32 674.39 L574.2 674.37 L576.08 674.35 L577.96 674.33 L579.85 674.31 L581.73 674.3 L583.61 674.28 L585.49 674.26 L587.37 674.24 L589.25 674.22 L591.13 674.2 L593.02 674.18 L594.9 674.16 L596.78 674.15 L598.66 674.13 L600.54 674.11 L602.42 674.09 L604.31 674.07 L606.19 674.05 L608.07 674.03 L609.95 674.01 L611.83 673.99 L613.72 673.98 L615.6 673.96 L617.48 673.94 L619.36 673.92 L621.24 673.9 L623.12 673.88 L625 673.86 L626.89 673.84 L628.77 673.82 L630.65 673.81 L632.53 673.79 L634.41 673.77 L636.29 673.75 L638.18 673.73 L640.06 673.71 L641.94 673.69 L643.82 673.67 L645.7 673.66 L647.59 673.64 L649.47 673.62 L651.35 673.6 L653.23 673.58 L655.11 673.56 L656.99 673.55 L658.88 673.53 L660.76 673.51 L662.64 673.49 L664.52 673.47 L666.4 673.46 L668.28 673.44 L670.16 673.42 L672.05 673.4 L673.93 673.38 L675.81 673.36 L677.69 673.35 L679.57 673.33 L681.46 673.31 L683.34 673.29 L685.22 673.27 L687.1 673.26 L688.98 673.24 L690.86 673.22 L692.75 673.2 L694.63 673.18 L696.51 673.17 L698.39 673.15 L700.27 673.13 L702.15 673.11 L704.03 673.09 L705.92 673.08 L707.8 673.06 L709.68 673.04 L711.56 673.02 L713.44 673 L715.33 672.98 L717.21 672.97 L719.09 672.95 L720.97 672.93 L722.85 672.91 L724.73 672.89 L726.62 672.88 L728.5 672.86 L730.38 672.84 L732.26 672.82 L734.14 672.8 L736.02 672.79 L737.9 672.77 L739.79 672.75 L741.67 672.73 L743.55 672.71 L745.43 672.7 L747.31 672.68 L749.2 672.66 L751.08 672.64 L752.96 672.62 L754.84 672.6 L756.72 672.59 L758.6 672.57 L760.49 672.55 L762.37 672.53 L764.25 672.51 L766.13 672.5 L768.01 672.48 L769.89 672.46 L771.77 672.44 L773.66 672.42 L775.54 672.41 L777.42 672.39 L779.3 672.37 L781.18 672.35 L783.06 672.33 L784.95 672.32 L786.83 672.3 L788.71 672.28 L790.59 672.26 L792.47 672.24 L794.36 672.23 L796.24 672.21 L798.12 672.19 L800 672.17" fill="none" stroke="#000" stroke-width="4.6" stroke-linecap="round" stroke-linejoin="round"/>
<text x="212.5" y="706.5" font-size="18" stroke="#fff" stroke-width="0.25" text-anchor="end" textLength="8.81" lengthAdjust="spacingAndGlyphs">0</text>
<text x="212.5" y="638.67" font-size="18" stroke="#fff" stroke-width="0.25" text-anchor="end" textLength="8.81" lengthAdjust="spacingAndGlyphs">2</text>
<text x="212.5" y="570.83" font-size="18" stroke="#fff" stroke-width="0.25" text-anchor="end" textLength="8.81" lengthAdjust="spacingAndGlyphs">4</text>
<text x="212.5" y="503" font-size="18" stroke="#fff" stroke-width="0.25" text-anchor="end" textLength="8.81" lengthAdjust="spacingAndGlyphs">6</text>
<text x="212.5" y="435.17" font-size="18" stroke="#fff" stroke-width="0.25" text-anchor="end" textLength="8.81" lengthAdjust="spacingAndGlyphs">8</text>
<text x="212.5" y="367.33" font-size="18" stroke="#fff" stroke-width="0.25" text-anchor="end" textLength="17.62" lengthAdjust="spacingAndGlyphs">10</text>
<text x="212.5" y="299.5" font-size="18" stroke="#fff" stroke-width="0.25" text-anchor="end" textLength="17.62" lengthAdjust="spacingAndGlyphs">12</text>
<text x="235.5" y="741.8" font-size="18" stroke="#fff" stroke-width="0.25" text-anchor="middle" textLength="8.81" lengthAdjust="spacingAndGlyphs">0</text>
<text x="376.62" y="741.8" font-size="18" stroke="#fff" stroke-width="0.25" text-anchor="middle" textLength="8.81" lengthAdjust="spacingAndGlyphs">4</text>
<text x="517.75" y="741.8" font-size="18" stroke="#fff" stroke-width="0.25" text-anchor="middle" textLength="8.81" lengthAdjust="spacingAndGlyphs">8</text>
<text x="658.88" y="741.8" font-size="18" stroke="#fff" stroke-width="0.25" text-anchor="middle" textLength="17.62" lengthAdjust="spacingAndGlyphs">12</text>
<text x="800" y="741.8" font-size="18" stroke="#fff" stroke-width="0.25" text-anchor="middle" textLength="17.62" lengthAdjust="spacingAndGlyphs">16</text>
<text x="275.4" y="324" font-size="16.5" stroke="#fff" stroke-width="0.25">Common Source</text>
<text x="275.4" y="345" font-size="16.5" stroke="#fff" stroke-width="0.25">T<tspan font-size="10.5" dy="6.5" stroke-width="0.1">c</tspan><tspan dy="-6.5"> = 25°C</tspan></text>
<text x="275.4" y="367.7" font-size="16.5" stroke="#fff" stroke-width="0.25">Pulse test</text>
<g transform="translate(689 322.6) scale(0.92 1)">
<text x="0" y="0" font-size="15" stroke="#fff" stroke-width="0.25">V<tspan font-size="9.5" dy="7" stroke-width="0.05">GS</tspan><tspan dy="-7">=10V</tspan></text>
</g>
<g transform="translate(689.5 361) scale(0.92 1)">
<text x="0" y="0" font-size="15" stroke="#fff" stroke-width="0.25">V<tspan font-size="9.5" dy="7" stroke-width="0.05">GS</tspan><tspan dy="-7">=7V</tspan></text>
</g>
<g transform="translate(677 406.6) scale(0.92 1)">
<text x="0" y="0" font-size="15" stroke="#fff" stroke-width="0.25">V<tspan font-size="9.5" dy="7" stroke-width="0.05">GS</tspan><tspan dy="-7">=6V</tspan></text>
</g>
<g transform="translate(677 509) scale(0.92 1)">
<text x="0" y="0" font-size="15" stroke="#fff" stroke-width="0.25">V<tspan font-size="9.5" dy="7" stroke-width="0.05">GS</tspan><tspan dy="-7">=5.5V</tspan></text>
</g>
<g transform="translate(677 591) scale(0.92 1)">
<text x="0" y="0" font-size="15" stroke="#fff" stroke-width="0.25">V<tspan font-size="9.5" dy="7" stroke-width="0.05">GS</tspan><tspan dy="-7">=5V</tspan></text>
</g>
<g transform="translate(681 651) scale(0.92 1)">
<text x="0" y="0" font-size="15" stroke="#fff" stroke-width="0.25">V<tspan font-size="9.5" dy="7" stroke-width="0.05">GS</tspan><tspan dy="-7" font-weight="bold">=4.5V</tspan></text>
</g>
<text x="477.5" y="779.6" font-size="21.5" stroke="#fff" stroke-width="0.25">V<tspan font-size="13.5" dy="8.1" stroke-width="0.1">DS</tspan><tspan dy="-8.1"> (V)</tspan></text>
<g transform="translate(173 497) rotate(-90)">
<text x="0" y="0" font-size="22" stroke="#fff" stroke-width="0.25">I<tspan font-size="14" dy="8.9" stroke-width="0.1">D</tspan><tspan dy="-8.9"> (A)</tspan></text>
</g>
<line x1="1039.75" y1="294" x2="1039.75" y2="701" stroke="#000" stroke-width="2.6"/>
<line x1="1133" y1="294" x2="1133" y2="701" stroke="#000" stroke-width="2.6"/>
<line x1="1226.25" y1="294" x2="1226.25" y2="701" stroke="#000" stroke-width="2.6"/>
<line x1="1319.5" y1="294" x2="1319.5" y2="701" stroke="#000" stroke-width="2.6"/>
<line x1="1412.75" y1="294" x2="1412.75" y2="701" stroke="#000" stroke-width="2.6"/>
<line x1="946.5" y1="633.17" x2="1506" y2="633.17" stroke="#000" stroke-width="2.6"/>
<line x1="946.5" y1="565.33" x2="1506" y2="565.33" stroke="#000" stroke-width="2.6"/>
<line x1="946.5" y1="497.5" x2="1506" y2="497.5" stroke="#000" stroke-width="2.6"/>
<line x1="946.5" y1="429.67" x2="1506" y2="429.67" stroke="#000" stroke-width="2.6"/>
<line x1="946.5" y1="361.83" x2="1506" y2="361.83" stroke="#000" stroke-width="2.6"/>
<rect x="978" y="296" width="180" height="118.5" fill="#fff"/>
<rect x="946.5" y="294" width="559.5" height="407" fill="none" stroke="#000" stroke-width="3.8"/>
<line x1="946.5" y1="701" x2="946.5" y2="707" stroke="#000" stroke-width="3.6"/>
<line x1="1039.75" y1="701" x2="1039.75" y2="707" stroke="#000" stroke-width="3.6"/>
<line x1="1133" y1="701" x2="1133" y2="707" stroke="#000" stroke-width="3.6"/>
<line x1="1226.25" y1="701" x2="1226.25" y2="707" stroke="#000" stroke-width="3.6"/>
<line x1="1319.5" y1="701" x2="1319.5" y2="707" stroke="#000" stroke-width="3.6"/>
<line x1="1412.75" y1="701" x2="1412.75" y2="707" stroke="#000" stroke-width="3.6"/>
<line x1="1506" y1="701" x2="1506" y2="707" stroke="#000" stroke-width="3.6"/>
<line x1="940.5" y1="701" x2="946.5" y2="701" stroke="#000" stroke-width="3.6"/>
<line x1="940.5" y1="633.17" x2="946.5" y2="633.17" stroke="#000" stroke-width="3.6"/>
<line x1="940.5" y1="565.33" x2="946.5" y2="565.33" stroke="#000" stroke-width="3.6"/>
<line x1="940.5" y1="497.5" x2="946.5" y2="497.5" stroke="#000" stroke-width="3.6"/>
<line x1="940.5" y1="429.67" x2="946.5" y2="429.67" stroke="#000" stroke-width="3.6"/>
<line x1="940.5" y1="361.83" x2="946.5" y2="361.83" stroke="#000" stroke-width="3.6"/>
<line x1="940.5" y1="294" x2="946.5" y2="294" stroke="#000" stroke-width="3.6"/>
<path d="M971.68 699.98 L973.46 699.96 L975.24 699.95 L977.02 699.93 L978.8 699.91 L980.58 699.9 L982.36 699.88 L984.15 699.87 L985.93 699.85 L987.71 699.83 L989.49 699.82 L991.27 699.8 L993.05 699.78 L994.83 699.76 L996.61 699.73 L998.39 699.71 L1000.17 699.68 L1001.96 699.65 L1003.74 699.62 L1005.52 699.58 L1007.3 699.53 L1009.08 699.48 L1010.86 699.42 L1012.64 699.35 L1014.42 699.27 L1016.2 699.19 L1017.99 699.1 L1019.77 699 L1021.55 698.9 L1023.33 698.79 L1025.11 698.67 L1026.89 698.54 L1028.67 698.37 L1030.45 698.16 L1032.23 697.92 L1034.02 697.65 L1035.8 697.35 L1037.58 697.02 L1039.36 696.67 L1041.14 696.29 L1042.92 695.84 L1044.7 695.33 L1046.48 694.76 L1048.26 694.14 L1050.04 693.47 L1051.83 692.76 L1053.61 692 L1055.39 691.21 L1057.17 690.38 L1058.95 689.52 L1060.73 688.63 L1062.51 687.72 L1064.29 686.77 L1066.07 685.71 L1067.86 684.57 L1069.64 683.33 L1071.42 682.03 L1073.2 680.66 L1074.98 679.24 L1076.76 677.77 L1078.54 676.28 L1080.32 674.77 L1082.1 673.25 L1083.89 671.72 L1085.67 670.14 L1087.45 668.51 L1089.23 666.84 L1091.01 665.11 L1092.79 663.31 L1094.57 661.46 L1096.35 659.53 L1098.13 657.53 L1099.91 655.44 L1101.7 653.22 L1103.48 650.88 L1105.26 648.44 L1107.04 645.9 L1108.82 643.29 L1110.6 640.61 L1112.38 637.9 L1114.16 635.15 L1115.94 632.35 L1117.73 629.46 L1119.51 626.49 L1121.29 623.44 L1123.07 620.34 L1124.85 617.2 L1126.63 614.03 L1128.41 610.84 L1130.19 607.65 L1131.97 604.47 L1133.76 601.3 L1135.54 598.13 L1137.32 594.94 L1139.1 591.73 L1140.88 588.49 L1142.66 585.24 L1144.44 581.95 L1146.22 578.64 L1148 575.3 L1149.78 571.95 L1151.57 568.6 L1153.35 565.22 L1155.13 561.79 L1156.91 558.31 L1158.69 554.76 L1160.47 551.12 L1162.25 547.39 L1164.03 543.58 L1165.81 539.71 L1167.6 535.77 L1169.38 531.77 L1171.16 527.71 L1172.94 523.59 L1174.72 519.42 L1176.5 515.19 L1178.28 510.92 L1180.06 506.61 L1181.84 502.16 L1183.63 497.59 L1185.41 492.94 L1187.19 488.26 L1188.97 483.6 L1190.75 479.01 L1192.53 474.47 L1194.31 469.91 L1196.09 465.37 L1197.87 460.85 L1199.66 456.38 L1201.44 451.97 L1203.22 447.65 L1205 443.37 L1206.78 439.13 L1208.56 434.95 L1210.34 430.87 L1212.12 426.9 L1213.9 423.07 L1215.68 419.36 L1217.47 415.73 L1219.25 412.19 L1221.03 408.71 L1222.81 405.3 L1224.59 401.92 L1226.37 398.58 L1228.15 395.28 L1229.93 392.04 L1231.71 388.85 L1233.5 385.71 L1235.28 382.61 L1237.06 379.54 L1238.84 376.46 L1240.62 373.39 L1242.4 370.38 L1244.18 367.47 L1245.96 364.71 L1247.74 362.12 L1249.53 359.63 L1251.31 357.21 L1253.09 354.88 L1254.87 352.64 L1256.65 350.49 L1258.43 348.44 L1260.21 346.49 L1261.99 344.55 L1263.77 342.64 L1265.55 340.78 L1267.34 339.02 L1269.12 337.42 L1270.9 336 L1272.68 334.81 L1274.46 333.81 L1276.24 332.88 L1278.02 332 L1279.8 331.18 L1281.58 330.41 L1283.37 329.7 L1285.15 329.05 L1286.93 328.44 L1288.71 327.89 L1290.49 327.39 L1292.27 326.94 L1294.05 326.53 L1295.83 326.14 L1297.61 325.78 L1299.4 325.43 L1301.18 325.1 L1302.96 324.8 L1304.74 324.5 L1306.52 324.22 L1308.3 323.96 L1310.08 323.7 L1311.86 323.46 L1313.64 323.22 L1315.42 323 L1317.21 322.77 L1318.99 322.55 L1320.77 322.34 L1322.55 322.12 L1324.33 321.91 L1326.11 321.71 L1327.89 321.51 L1329.67 321.32 L1331.45 321.14 L1333.24 320.97 L1335.02 320.82 L1336.8 320.67 L1338.58 320.55 L1340.36 320.43 L1342.14 320.33 L1343.92 320.23 L1345.7 320.12 L1347.48 320.02 L1349.27 319.92 L1351.05 319.83 L1352.83 319.73 L1354.61 319.63 L1356.39 319.54 L1358.17 319.45 L1359.95 319.36 L1361.73 319.27 L1363.51 319.19 L1365.3 319.1 L1367.08 319.02 L1368.86 318.94 L1370.64 318.86 L1372.42 318.78 L1374.2 318.71 L1375.98 318.64 L1377.76 318.57 L1379.54 318.5 L1381.32 318.44 L1383.11 318.37 L1384.89 318.31 L1386.67 318.26 L1388.45 318.2 L1390.23 318.15 L1392.01 318.1 L1393.79 318.05 L1395.57 318.01 L1397.35 317.97 L1399.14 317.93 L1400.92 317.9 L1402.7 317.86 L1404.48 317.83 L1406.26 317.81 L1408.04 317.79 L1409.82 317.77 L1411.6 317.75 L1413.38 317.74 L1415.17 317.73 L1416.95 317.71 L1418.73 317.7 L1420.51 317.69 L1422.29 317.68 L1424.07 317.67 L1425.85 317.66 L1427.63 317.65 L1429.41 317.64 L1431.19 317.64 L1432.98 317.63 L1434.76 317.62 L1436.54 317.61 L1438.32 317.61 L1440.1 317.6 L1441.88 317.59 L1443.66 317.58 L1445.44 317.58 L1447.22 317.57 L1449.01 317.57 L1450.79 317.56 L1452.57 317.55 L1454.35 317.55 L1456.13 317.54 L1457.91 317.54 L1459.69 317.53 L1461.47 317.53 L1463.25 317.52 L1465.04 317.52 L1466.82 317.51 L1468.6 317.51 L1470.38 317.5 L1472.16 317.5 L1473.94 317.5 L1475.72 317.49 L1477.5 317.49 L1479.28 317.48 L1481.06 317.48 L1482.85 317.47 L1484.63 317.47 L1486.41 317.46 L1488.19 317.46 L1489.97 317.45 L1491.75 317.45 L1493.53 317.44 L1495.31 317.44 L1497.09 317.43 L1498.88 317.43 L1500.66 317.42 L1502.44 317.42 L1504.22 317.41 L1506 317.4" fill="none" stroke="#000" stroke-width="4.6" stroke-linecap="round" stroke-linejoin="round"/>
<text x="923" y="706.5" font-size="18" stroke="#fff" stroke-width="0.25" text-anchor="end" textLength="8.81" lengthAdjust="spacingAndGlyphs">0</text>
<text x="923" y="638.67" font-size="18" stroke="#fff" stroke-width="0.25" text-anchor="end" textLength="8.81" lengthAdjust="spacingAndGlyphs">2</text>
<text x="923" y="570.83" font-size="18" stroke="#fff" stroke-width="0.25" text-anchor="end" textLength="8.81" lengthAdjust="spacingAndGlyphs">4</text>
<text x="923" y="503" font-size="18" stroke="#fff" stroke-width="0.25" text-anchor="end" textLength="8.81" lengthAdjust="spacingAndGlyphs">6</text>
<text x="923" y="435.17" font-size="18" stroke="#fff" stroke-width="0.25" text-anchor="end" textLength="8.81" lengthAdjust="spacingAndGlyphs">8</text>
<text x="923" y="367.33" font-size="18" stroke="#fff" stroke-width="0.25" text-anchor="end" textLength="17.62" lengthAdjust="spacingAndGlyphs">10</text>
<text x="923" y="299.5" font-size="18" stroke="#fff" stroke-width="0.25" text-anchor="end" textLength="17.62" lengthAdjust="spacingAndGlyphs">12</text>
<text x="946.5" y="742" font-size="18" stroke="#fff" stroke-width="0.25" text-anchor="middle" textLength="8.81" lengthAdjust="spacingAndGlyphs">3</text>
<text x="1039.75" y="742" font-size="18" stroke="#fff" stroke-width="0.25" text-anchor="middle" textLength="8.81" lengthAdjust="spacingAndGlyphs">4</text>
<text x="1133" y="742" font-size="18" stroke="#fff" stroke-width="0.25" text-anchor="middle" textLength="8.81" lengthAdjust="spacingAndGlyphs">5</text>
<text x="1226.25" y="742" font-size="18" stroke="#fff" stroke-width="0.25" text-anchor="middle" textLength="8.81" lengthAdjust="spacingAndGlyphs">6</text>
<text x="1319.5" y="742" font-size="18" stroke="#fff" stroke-width="0.25" text-anchor="middle" textLength="8.81" lengthAdjust="spacingAndGlyphs">7</text>
<text x="1412.75" y="742" font-size="18" stroke="#fff" stroke-width="0.25" text-anchor="middle" textLength="8.81" lengthAdjust="spacingAndGlyphs">8</text>
<text x="1506" y="742" font-size="18" stroke="#fff" stroke-width="0.25" text-anchor="middle" textLength="8.81" lengthAdjust="spacingAndGlyphs">9</text>
<text x="999" y="325.5" font-size="16.5" stroke="#fff" stroke-width="0.25">Common Source</text>
<text x="999" y="346" font-size="16.5" stroke="#fff" stroke-width="0.25">T<tspan font-size="10.5" dy="6.5" stroke-width="0.1">c</tspan><tspan dy="-6.5"> = 25°C</tspan></text>
<text x="999" y="369.8" font-size="16.5" stroke="#fff" stroke-width="0.25">V<tspan font-size="10.5" dy="6.5" stroke-width="0.1">DS</tspan><tspan dy="-6.5">=20 V</tspan></text>
<text x="999" y="392.7" font-size="16.5" stroke="#fff" stroke-width="0.25">Pulse test</text>
<text x="1215.8" y="785.6" font-size="21.5" stroke="#fff" stroke-width="0.25">V<tspan font-size="13.5" dy="8.3" stroke-width="0.1">GS</tspan><tspan dy="-8.3"> (V)</tspan></text>
<g transform="translate(883 495) rotate(-90)">
<text x="0" y="0" font-size="22" stroke="#fff" stroke-width="0.25">I<tspan font-size="14" dy="9" stroke-width="0.1">D</tspan><tspan dy="-9"> (A)</tspan></text>
</g>
<line x1="348" y1="933" x2="348" y2="1354" stroke="#000" stroke-width="2.6"/>
<line x1="461" y1="933" x2="461" y2="1354" stroke="#000" stroke-width="2.6"/>
<line x1="574" y1="933" x2="574" y2="1354" stroke="#000" stroke-width="2.6"/>
<line x1="687" y1="933" x2="687" y2="1354" stroke="#000" stroke-width="2.6"/>
<line x1="235" y1="1248.75" x2="800" y2="1248.75" stroke="#000" stroke-width="2.6"/>
<line x1="235" y1="1143.5" x2="800" y2="1143.5" stroke="#000" stroke-width="2.6"/>
<line x1="235" y1="1038.25" x2="800" y2="1038.25" stroke="#000" stroke-width="2.6"/>
<rect x="655" y="1260" width="80" height="62.5" fill="#fff"/>
<rect x="235" y="933" width="565" height="421" fill="none" stroke="#000" stroke-width="3.8"/>
<line x1="235" y1="1354" x2="235" y2="1360" stroke="#000" stroke-width="3.6"/>
<line x1="348" y1="1354" x2="348" y2="1360" stroke="#000" stroke-width="3.6"/>
<line x1="461" y1="1354" x2="461" y2="1360" stroke="#000" stroke-width="3.6"/>
<line x1="574" y1="1354" x2="574" y2="1360" stroke="#000" stroke-width="3.6"/>
<line x1="687" y1="1354" x2="687" y2="1360" stroke="#000" stroke-width="3.6"/>
<line x1="800" y1="1354" x2="800" y2="1360" stroke="#000" stroke-width="3.6"/>
<line x1="229" y1="1354" x2="235" y2="1354" stroke="#000" stroke-width="3.6"/>
<line x1="229" y1="1248.75" x2="235" y2="1248.75" stroke="#000" stroke-width="3.6"/>
<line x1="229" y1="1143.5" x2="235" y2="1143.5" stroke="#000" stroke-width="3.6"/>
<line x1="229" y1="1038.25" x2="235" y2="1038.25" stroke="#000" stroke-width="3.6"/>
<line x1="229" y1="933" x2="235" y2="933" stroke="#000" stroke-width="3.6"/>
<path d="M241.1 1251.49 L242.89 1251.11 L244.68 1250.73 L246.46 1250.34 L248.25 1249.96 L250.04 1249.58 L251.82 1249.2 L253.61 1248.82 L255.4 1248.44 L257.18 1248.05 L258.97 1247.68 L260.76 1247.3 L262.54 1246.92 L264.33 1246.55 L266.12 1246.18 L267.9 1245.81 L269.69 1245.45 L271.48 1245.09 L273.26 1244.73 L275.05 1244.38 L276.84 1244.03 L278.62 1243.68 L280.41 1243.33 L282.2 1242.99 L283.98 1242.64 L285.77 1242.29 L287.56 1241.94 L289.34 1241.59 L291.13 1241.24 L292.92 1240.89 L294.7 1240.53 L296.49 1240.18 L298.28 1239.81 L300.06 1239.45 L301.85 1239.07 L303.64 1238.7 L305.42 1238.31 L307.21 1237.93 L309 1237.55 L310.78 1237.16 L312.57 1236.77 L314.36 1236.38 L316.14 1235.99 L317.93 1235.6 L319.72 1235.2 L321.5 1234.8 L323.29 1234.4 L325.08 1233.99 L326.86 1233.59 L328.65 1233.18 L330.44 1232.76 L332.22 1232.34 L334.01 1231.92 L335.8 1231.5 L337.58 1231.07 L339.37 1230.64 L341.16 1230.2 L342.94 1229.76 L344.73 1229.32 L346.52 1228.87 L348.31 1228.42 L350.09 1227.96 L351.88 1227.49 L353.67 1227.02 L355.45 1226.54 L357.24 1226.06 L359.03 1225.57 L360.81 1225.08 L362.6 1224.58 L364.39 1224.07 L366.17 1223.57 L367.96 1223.06 L369.75 1222.54 L371.53 1222.02 L373.32 1221.5 L375.11 1220.98 L376.89 1220.45 L378.68 1219.92 L380.47 1219.39 L382.25 1218.86 L384.04 1218.33 L385.83 1217.79 L387.61 1217.26 L389.4 1216.72 L391.19 1216.18 L392.97 1215.65 L394.76 1215.11 L396.55 1214.58 L398.33 1214.04 L400.12 1213.51 L401.91 1212.97 L403.69 1212.44 L405.48 1211.9 L407.27 1211.37 L409.05 1210.83 L410.84 1210.3 L412.63 1209.76 L414.41 1209.22 L416.2 1208.68 L417.99 1208.14 L419.77 1207.59 L421.56 1207.05 L423.35 1206.5 L425.13 1205.95 L426.92 1205.4 L428.71 1204.85 L430.49 1204.29 L432.28 1203.74 L434.07 1203.18 L435.85 1202.61 L437.64 1202.05 L439.43 1201.48 L441.21 1200.9 L443 1200.33 L444.79 1199.75 L446.57 1199.16 L448.36 1198.58 L450.15 1197.99 L451.93 1197.39 L453.72 1196.79 L455.51 1196.18 L457.29 1195.58 L459.08 1194.96 L460.87 1194.34 L462.66 1193.72 L464.44 1193.09 L466.23 1192.45 L468.02 1191.81 L469.8 1191.16 L471.59 1190.51 L473.38 1189.85 L475.16 1189.18 L476.95 1188.51 L478.74 1187.83 L480.52 1187.15 L482.31 1186.47 L484.1 1185.77 L485.88 1185.08 L487.67 1184.37 L489.46 1183.66 L491.24 1182.95 L493.03 1182.23 L494.82 1181.51 L496.6 1180.78 L498.39 1180.05 L500.18 1179.31 L501.96 1178.57 L503.75 1177.82 L505.54 1177.06 L507.32 1176.29 L509.11 1175.52 L510.9 1174.75 L512.68 1173.96 L514.47 1173.17 L516.26 1172.38 L518.04 1171.58 L519.83 1170.77 L521.62 1169.95 L523.4 1169.13 L525.19 1168.31 L526.98 1167.47 L528.76 1166.64 L530.55 1165.79 L532.34 1164.94 L534.12 1164.09 L535.91 1163.23 L537.7 1162.36 L539.48 1161.49 L541.27 1160.61 L543.06 1159.72 L544.84 1158.82 L546.63 1157.91 L548.42 1157 L550.2 1156.08 L551.99 1155.15 L553.78 1154.22 L555.56 1153.28 L557.35 1152.33 L559.14 1151.39 L560.92 1150.43 L562.71 1149.47 L564.5 1148.51 L566.28 1147.54 L568.07 1146.57 L569.86 1145.6 L571.64 1144.62 L573.43 1143.64 L575.22 1142.66 L577.01 1141.68 L578.79 1140.7 L580.58 1139.72 L582.37 1138.73 L584.15 1137.74 L585.94 1136.75 L587.73 1135.75 L589.51 1134.74 L591.3 1133.73 L593.09 1132.72 L594.87 1131.69 L596.66 1130.66 L598.45 1129.62 L600.23 1128.57 L602.02 1127.51 L603.81 1126.43 L605.59 1125.35 L607.38 1124.26 L609.17 1123.15 L610.95 1122.03 L612.74 1120.89 L614.53 1119.75 L616.31 1118.59 L618.1 1117.43 L619.89 1116.25 L621.67 1115.06 L623.46 1113.86 L625.25 1112.65 L627.03 1111.43 L628.82 1110.19 L630.61 1108.95 L632.39 1107.69 L634.18 1106.42 L635.97 1105.14 L637.75 1103.85 L639.54 1102.54 L641.33 1101.22 L643.11 1099.89 L644.9 1098.55 L646.69 1097.19 L648.47 1095.82 L650.26 1094.43 L652.05 1093.02 L653.83 1091.59 L655.62 1090.14 L657.41 1088.67 L659.19 1087.18 L660.98 1085.68 L662.77 1084.17 L664.55 1082.64 L666.34 1081.1 L668.13 1079.55 L669.91 1077.99 L671.7 1076.42 L673.49 1074.84 L675.27 1073.26 L677.06 1071.68 L678.85 1070.09 L680.63 1068.49 L682.42 1066.9 L684.21 1065.3 L685.99 1063.71 L687.78 1062.12 L689.57 1060.52 L691.36 1058.92 L693.14 1057.32 L694.93 1055.71 L696.72 1054.09 L698.5 1052.46 L700.29 1050.81 L702.08 1049.14 L703.86 1047.46 L705.65 1045.75 L707.44 1044.02 L709.22 1042.26 L711.01 1040.48 L712.8 1038.67 L714.58 1036.82 L716.37 1034.95 L718.16 1033.04 L719.94 1031.12 L721.73 1029.16 L723.52 1027.18 L725.3 1025.18 L727.09 1023.15 L728.88 1021.1 L730.66 1019.03 L732.45 1016.94 L734.24 1014.82 L736.02 1012.7 L737.81 1010.55 L739.6 1008.38 L741.38 1006.2 L743.17 1003.95 L744.96 1001.66 L746.74 999.33 L748.53 996.97 L750.32 994.6 L752.1 992.21 L753.89 989.82 L755.68 987.45 L757.46 985.09 L759.25 982.76 L761.04 980.44 L762.82 978.12 L764.61 975.81 L766.4 973.49 L768.18 971.18 L769.97 968.87 L771.76 966.56 L773.54 964.25 L775.33 961.94 L777.12 959.63" fill="none" stroke="#000" stroke-width="4.4" stroke-linecap="round" stroke-linejoin="round"/>
<text x="212.5" y="1360.1" font-size="18" stroke="#fff" stroke-width="0.25" text-anchor="end" textLength="22.02" lengthAdjust="spacingAndGlyphs">0.4</text>
<text x="212.5" y="1254.85" font-size="18" stroke="#fff" stroke-width="0.25" text-anchor="end" textLength="22.02" lengthAdjust="spacingAndGlyphs">0.5</text>
<text x="212.5" y="1149.6" font-size="18" stroke="#fff" stroke-width="0.25" text-anchor="end" textLength="22.02" lengthAdjust="spacingAndGlyphs">0.6</text>
<text x="212.5" y="1044.35" font-size="18" stroke="#fff" stroke-width="0.25" text-anchor="end" textLength="22.02" lengthAdjust="spacingAndGlyphs">0.7</text>
<text x="212.5" y="939.1" font-size="18" stroke="#fff" stroke-width="0.25" text-anchor="end" textLength="22.02" lengthAdjust="spacingAndGlyphs">0.8</text>
<text x="235" y="1395" font-size="18" stroke="#fff" stroke-width="0.25" text-anchor="middle" textLength="8.81" lengthAdjust="spacingAndGlyphs">0</text>
<text x="348" y="1395" font-size="18" stroke="#fff" stroke-width="0.25" text-anchor="middle" textLength="8.81" lengthAdjust="spacingAndGlyphs">2</text>
<text x="461" y="1395" font-size="18" stroke="#fff" stroke-width="0.25" text-anchor="middle" textLength="8.81" lengthAdjust="spacingAndGlyphs">4</text>
<text x="574" y="1395" font-size="18" stroke="#fff" stroke-width="0.25" text-anchor="middle" textLength="8.81" lengthAdjust="spacingAndGlyphs">6</text>
<text x="687" y="1395" font-size="18" stroke="#fff" stroke-width="0.25" text-anchor="middle" textLength="8.81" lengthAdjust="spacingAndGlyphs">8</text>
<text x="800" y="1395" font-size="18" stroke="#fff" stroke-width="0.25" text-anchor="middle" textLength="17.62" lengthAdjust="spacingAndGlyphs">10</text>
<text x="370" y="1122.5" font-size="16.5" stroke="#fff" stroke-width="0.25">V<tspan font-size="10.5" dy="6.5" stroke-width="0.1">GS</tspan><tspan dy="-6.5"> = 10V</tspan></text>
<text x="659" y="1287" font-size="16.5" stroke="#fff" stroke-width="0.25">T<tspan font-size="10.5" dy="6.5" stroke-width="0.1">c</tspan><tspan dy="-6.5"> = 25°C</tspan></text>
<text x="659" y="1309" font-size="16.5" stroke="#fff" stroke-width="0.25">Pulse test</text>
<text x="476" y="1426.7" font-size="22" stroke="#fff" stroke-width="0.25">I<tspan font-size="13.5" dy="9.1" stroke-width="0.1">D</tspan><tspan dy="-9.1"> (A)</tspan></text>
<g transform="translate(170 1169.5) rotate(-90)">
<text x="0" y="0" font-size="22" stroke="#fff" stroke-width="0.25">R<tspan font-size="13.5" dy="2.7" stroke-width="0.1">DS(on)</tspan><tspan dy="-2.7"> (Ω)</tspan></text>
</g>
<line x1="1013.38" y1="934.5" x2="1013.38" y2="1353" stroke="#000" stroke-width="2"/>
<line x1="1082.75" y1="934.5" x2="1082.75" y2="1353" stroke="#000" stroke-width="2"/>
<line x1="1152.12" y1="934.5" x2="1152.12" y2="1353" stroke="#000" stroke-width="2"/>
<line x1="1221.5" y1="934.5" x2="1221.5" y2="1353" stroke="#000" stroke-width="2"/>
<line x1="1290.88" y1="934.5" x2="1290.88" y2="1353" stroke="#000" stroke-width="2"/>
<line x1="1360.25" y1="934.5" x2="1360.25" y2="1353" stroke="#000" stroke-width="2"/>
<line x1="1429.62" y1="934.5" x2="1429.62" y2="1353" stroke="#000" stroke-width="2"/>
<line x1="944" y1="1311.01" x2="1499" y2="1311.01" stroke="#000" stroke-width="1.75"/>
<line x1="944" y1="1286.44" x2="1499" y2="1286.44" stroke="#000" stroke-width="1.75"/>
<line x1="944" y1="1269.01" x2="1499" y2="1269.01" stroke="#000" stroke-width="1.75"/>
<line x1="944" y1="1255.49" x2="1499" y2="1255.49" stroke="#000" stroke-width="1.75"/>
<line x1="944" y1="1244.45" x2="1499" y2="1244.45" stroke="#000" stroke-width="1.75"/>
<line x1="944" y1="1235.11" x2="1499" y2="1235.11" stroke="#000" stroke-width="1.75"/>
<line x1="944" y1="1227.02" x2="1499" y2="1227.02" stroke="#000" stroke-width="1.75"/>
<line x1="944" y1="1219.88" x2="1499" y2="1219.88" stroke="#000" stroke-width="1.75"/>
<line x1="944" y1="1213.5" x2="1499" y2="1213.5" stroke="#000" stroke-width="2.3"/>
<line x1="944" y1="1171.51" x2="1499" y2="1171.51" stroke="#000" stroke-width="1.75"/>
<line x1="944" y1="1146.94" x2="1499" y2="1146.94" stroke="#000" stroke-width="1.75"/>
<line x1="944" y1="1129.51" x2="1499" y2="1129.51" stroke="#000" stroke-width="1.75"/>
<line x1="944" y1="1115.99" x2="1499" y2="1115.99" stroke="#000" stroke-width="1.75"/>
<line x1="944" y1="1104.95" x2="1499" y2="1104.95" stroke="#000" stroke-width="1.75"/>
<line x1="944" y1="1095.61" x2="1499" y2="1095.61" stroke="#000" stroke-width="1.75"/>
<line x1="944" y1="1087.52" x2="1499" y2="1087.52" stroke="#000" stroke-width="1.75"/>
<line x1="944" y1="1080.38" x2="1499" y2="1080.38" stroke="#000" stroke-width="1.75"/>
<line x1="944" y1="1074" x2="1499" y2="1074" stroke="#000" stroke-width="2.3"/>
<line x1="944" y1="1032.01" x2="1499" y2="1032.01" stroke="#000" stroke-width="1.75"/>
<line x1="944" y1="1007.44" x2="1499" y2="1007.44" stroke="#000" stroke-width="1.75"/>
<line x1="944" y1="990.01" x2="1499" y2="990.01" stroke="#000" stroke-width="1.75"/>
<line x1="944" y1="976.49" x2="1499" y2="976.49" stroke="#000" stroke-width="1.75"/>
<line x1="944" y1="965.45" x2="1499" y2="965.45" stroke="#000" stroke-width="1.75"/>
<line x1="944" y1="956.11" x2="1499" y2="956.11" stroke="#000" stroke-width="1.75"/>
<line x1="944" y1="948.02" x2="1499" y2="948.02" stroke="#000" stroke-width="1.75"/>
<line x1="944" y1="940.88" x2="1499" y2="940.88" stroke="#000" stroke-width="1.75"/>
<rect x="1338" y="1260" width="133" height="64.5" fill="#fff"/>
<rect x="944" y="934.5" width="555" height="418.5" fill="none" stroke="#000" stroke-width="3.8"/>
<line x1="944" y1="1353" x2="944" y2="1359" stroke="#000" stroke-width="3.6"/>
<line x1="1013.38" y1="1353" x2="1013.38" y2="1359" stroke="#000" stroke-width="3.6"/>
<line x1="1082.75" y1="1353" x2="1082.75" y2="1359" stroke="#000" stroke-width="3.6"/>
<line x1="1152.12" y1="1353" x2="1152.12" y2="1359" stroke="#000" stroke-width="3.6"/>
<line x1="1221.5" y1="1353" x2="1221.5" y2="1359" stroke="#000" stroke-width="3.6"/>
<line x1="1290.88" y1="1353" x2="1290.88" y2="1359" stroke="#000" stroke-width="3.6"/>
<line x1="1360.25" y1="1353" x2="1360.25" y2="1359" stroke="#000" stroke-width="3.6"/>
<line x1="1429.62" y1="1353" x2="1429.62" y2="1359" stroke="#000" stroke-width="3.6"/>
<line x1="1499" y1="1353" x2="1499" y2="1359" stroke="#000" stroke-width="3.6"/>
<line x1="938" y1="1353" x2="944" y2="1353" stroke="#000" stroke-width="3.6"/>
<line x1="938" y1="1213.5" x2="944" y2="1213.5" stroke="#000" stroke-width="3.6"/>
<line x1="938" y1="1074" x2="944" y2="1074" stroke="#000" stroke-width="3.6"/>
<line x1="938" y1="934.5" x2="944" y2="934.5" stroke="#000" stroke-width="3.6"/>
<path d="M1041.47 1353 L1042.97 1348.8 L1044.47 1344.66 L1045.97 1340.53 L1047.47 1336.37 L1048.97 1332.14 L1050.47 1327.79 L1051.97 1323.28 L1053.47 1318.39 L1054.97 1313.25 L1056.47 1308.18 L1057.97 1303.51 L1059.47 1299.39 L1060.97 1295.58 L1062.47 1291.92 L1063.97 1288.25 L1065.47 1284.47 L1066.97 1280.65 L1068.47 1276.84 L1069.97 1273.05 L1071.46 1269.33 L1072.96 1265.69 L1074.46 1262.2 L1075.96 1258.84 L1077.46 1255.53 L1078.96 1252.2 L1080.46 1248.8 L1081.96 1245.26 L1083.46 1241.49 L1084.96 1237.16 L1086.46 1232.64 L1087.96 1228.62 L1089.46 1225.59 L1090.96 1223.09 L1092.46 1220.61 L1093.96 1217.89 L1095.46 1215.12 L1096.96 1212.3 L1098.46 1209.48 L1099.96 1206.66 L1101.46 1203.86 L1102.96 1201.06 L1104.46 1198.26 L1105.96 1195.43 L1107.46 1192.57 L1108.96 1189.76 L1110.46 1186.96 L1111.96 1184.09 L1113.46 1181.05 L1114.96 1177.71 L1116.45 1173.65 L1117.95 1169.61 L1119.45 1166.51 L1120.95 1163.91 L1122.45 1161.59 L1123.95 1159.44 L1125.45 1157.39 L1126.95 1155.33 L1128.45 1153.17 L1129.95 1151.03 L1131.45 1148.94 L1132.95 1146.84 L1134.45 1144.63 L1135.95 1142.25 L1137.45 1139.58 L1138.95 1136.73 L1140.45 1133.83 L1141.95 1131.01 L1143.45 1128.43 L1144.95 1126.08 L1146.45 1123.84 L1147.95 1121.7 L1149.45 1119.63 L1150.95 1117.62 L1152.45 1115.67 L1153.95 1113.76 L1155.45 1111.91 L1156.95 1110.1 L1158.45 1108.33 L1159.94 1106.59 L1161.44 1104.87 L1162.94 1103.18 L1164.44 1101.49 L1165.94 1099.8 L1167.44 1098.11 L1168.94 1096.44 L1170.44 1094.8 L1171.94 1093.18 L1173.44 1091.57 L1174.94 1089.96 L1176.44 1088.35 L1177.94 1086.74 L1179.44 1085.11 L1180.94 1083.47 L1182.44 1081.79 L1183.94 1080.04 L1185.44 1078.28 L1186.94 1076.54 L1188.44 1074.88 L1189.94 1073.32 L1191.44 1071.8 L1192.94 1070.31 L1194.44 1068.86 L1195.94 1067.43 L1197.44 1066.04 L1198.94 1064.69 L1200.44 1063.37 L1201.94 1062.08 L1203.43 1060.84 L1204.93 1059.64 L1206.43 1058.48 L1207.93 1057.36 L1209.43 1056.26 L1210.93 1055.2 L1212.43 1054.15 L1213.93 1053.12 L1215.43 1052.1 L1216.93 1051.08 L1218.43 1050.06 L1219.93 1049.03 L1221.43 1047.99 L1222.93 1046.95 L1224.43 1045.9 L1225.93 1044.85 L1227.43 1043.8 L1228.93 1042.75 L1230.43 1041.71 L1231.93 1040.68 L1233.43 1039.65 L1234.93 1038.64 L1236.43 1037.63 L1237.93 1036.64 L1239.43 1035.67 L1240.93 1034.71 L1242.43 1033.77 L1243.93 1032.85 L1245.43 1031.95 L1246.92 1031.06 L1248.42 1030.18 L1249.92 1029.3 L1251.42 1028.41 L1252.92 1027.51 L1254.42 1026.6 L1255.92 1025.66 L1257.42 1024.72 L1258.92 1023.76 L1260.42 1022.8 L1261.92 1021.84 L1263.42 1020.89 L1264.92 1019.96 L1266.42 1019.04 L1267.92 1018.15 L1269.42 1017.29 L1270.92 1016.47 L1272.42 1015.68 L1273.92 1014.93 L1275.42 1014.19 L1276.92 1013.48 L1278.42 1012.79 L1279.92 1012.11 L1281.42 1011.44 L1282.92 1010.78 L1284.42 1010.13 L1285.92 1009.48 L1287.42 1008.83 L1288.92 1008.17 L1290.41 1007.51 L1291.91 1006.85 L1293.41 1006.2 L1294.91 1005.55 L1296.41 1004.91 L1297.91 1004.27 L1299.41 1003.63 L1300.91 1002.99 L1302.41 1002.35 L1303.91 1001.72 L1305.41 1001.07 L1306.91 1000.43 L1308.41 999.78 L1309.91 999.12 L1311.41 998.45 L1312.91 997.77 L1314.41 997.08 L1315.91 996.39 L1317.41 995.7 L1318.91 995.02 L1320.41 994.34 L1321.91 993.68 L1323.41 993.03 L1324.91 992.4 L1326.41 991.79 L1327.91 991.2 L1329.41 990.62 L1330.91 990.04 L1332.41 989.47 L1333.9 988.91 L1335.4 988.35 L1336.9 987.8 L1338.4 987.25 L1339.9 986.71 L1341.4 986.17 L1342.9 985.64 L1344.4 985.12 L1345.9 984.59 L1347.4 984.08 L1348.9 983.56 L1350.4 983.06 L1351.9 982.55 L1353.4 982.05 L1354.9 981.56 L1356.4 981.07 L1357.9 980.58 L1359.4 980.1 L1360.9 979.62 L1362.4 979.14 L1363.9 978.67 L1365.4 978.2 L1366.9 977.73 L1368.4 977.27 L1369.9 976.81 L1371.4 976.36 L1372.9 975.9 L1374.4 975.45 L1375.9 975 L1377.39 974.56 L1378.89 974.11 L1380.39 973.67 L1381.89 973.23 L1383.39 972.8 L1384.89 972.36 L1386.39 971.93 L1387.89 971.5 L1389.39 971.08 L1390.89 970.65 L1392.39 970.23 L1393.89 969.81 L1395.39 969.4 L1396.89 968.98 L1398.39 968.57 L1399.89 968.17 L1401.39 967.76 L1402.89 967.36 L1404.39 966.96 L1405.89 966.57 L1407.39 966.18 L1408.89 965.79 L1410.39 965.4 L1411.89 965.02 L1413.39 964.64 L1414.89 964.26 L1416.39 963.88 L1417.89 963.51 L1419.39 963.14 L1420.88 962.78 L1422.38 962.42 L1423.88 962.06 L1425.38 961.71 L1426.88 961.35 L1428.38 961.01 L1429.88 960.66 L1431.38 960.32 L1432.88 959.98 L1434.38 959.65 L1435.88 959.32 L1437.38 959 L1438.88 958.67 L1440.38 958.35 L1441.88 958.04 L1443.38 957.72 L1444.88 957.41 L1446.38 957.11 L1447.88 956.8 L1449.38 956.5 L1450.88 956.2 L1452.38 955.9 L1453.88 955.6 L1455.38 955.3 L1456.88 955.01 L1458.38 954.72 L1459.88 954.43 L1461.38 954.14 L1462.88 953.85 L1464.37 953.56 L1465.87 953.27 L1467.37 952.98 L1468.87 952.7 L1470.37 952.41 L1471.87 952.12 L1473.37 951.83 L1474.87 951.55 L1476.37 951.26 L1477.87 950.97 L1479.37 950.68 L1480.87 950.39 L1482.37 950.1 L1483.87 949.81 L1485.37 949.51 L1486.87 949.22 L1488.37 948.92 L1489.87 948.62 L1491.37 948.32" fill="none" stroke="#000" stroke-width="4.6" stroke-linecap="round" stroke-linejoin="round"/>
<text x="920.5" y="1359.1" font-size="18" stroke="#fff" stroke-width="0.25" text-anchor="end" textLength="22.02" lengthAdjust="spacingAndGlyphs">0.1</text>
<text x="920.5" y="1219.6" font-size="18" stroke="#fff" stroke-width="0.25" text-anchor="end" textLength="8.81" lengthAdjust="spacingAndGlyphs">1</text>
<text x="920.5" y="1080.1" font-size="18" stroke="#fff" stroke-width="0.25" text-anchor="end" textLength="17.62" lengthAdjust="spacingAndGlyphs">10</text>
<text x="920.5" y="940.6" font-size="18" stroke="#fff" stroke-width="0.25" text-anchor="end" textLength="26.43" lengthAdjust="spacingAndGlyphs">100</text>
<text x="944" y="1393.5" font-size="16.5" stroke="#fff" stroke-width="0.25" text-anchor="middle" textLength="22.93" lengthAdjust="spacingAndGlyphs">0.5</text>
<text x="1013.38" y="1393.5" font-size="16.5" stroke="#fff" stroke-width="0.25" text-anchor="middle" textLength="22.93" lengthAdjust="spacingAndGlyphs">0.6</text>
<text x="1082.75" y="1393.5" font-size="16.5" stroke="#fff" stroke-width="0.25" text-anchor="middle" textLength="22.93" lengthAdjust="spacingAndGlyphs">0.7</text>
<text x="1152.12" y="1393.5" font-size="16.5" stroke="#fff" stroke-width="0.25" text-anchor="middle" textLength="22.93" lengthAdjust="spacingAndGlyphs">0.8</text>
<text x="1221.5" y="1393.5" font-size="16.5" stroke="#fff" stroke-width="0.25" text-anchor="middle" textLength="22.93" lengthAdjust="spacingAndGlyphs">0.9</text>
<text x="1290.88" y="1393.5" font-size="16.5" stroke="#fff" stroke-width="0.25" text-anchor="middle" textLength="9.18" lengthAdjust="spacingAndGlyphs">1</text>
<text x="1360.25" y="1393.5" font-size="16.5" stroke="#fff" stroke-width="0.25" text-anchor="middle" textLength="22.93" lengthAdjust="spacingAndGlyphs">1.1</text>
<text x="1429.62" y="1393.5" font-size="16.5" stroke="#fff" stroke-width="0.25" text-anchor="middle" textLength="22.93" lengthAdjust="spacingAndGlyphs">1.2</text>
<text x="1499" y="1393.5" font-size="16.5" stroke="#fff" stroke-width="0.25" text-anchor="middle" textLength="22.93" lengthAdjust="spacingAndGlyphs">1.3</text>
<text x="1359" y="1287" font-size="16.5" stroke="#fff" stroke-width="0.25">T<tspan font-size="10.5" dy="6.5" stroke-width="0.1">c</tspan><tspan dy="-6.5"> = 25°C</tspan></text>
<text x="1359" y="1309" font-size="16.5" stroke="#fff" stroke-width="0.25">Pulse test</text>
<text x="1203.6" y="1429.7" font-size="21.5" stroke="#fff" stroke-width="0.25">V<tspan font-size="13.5" dy="8.3" stroke-width="0.1">SD</tspan><tspan dy="-8.3"> (V)</tspan></text>
<g transform="translate(885.8 1145) rotate(-90)">
<text x="0" y="0" font-size="22" stroke="#fff" stroke-width="0.25">I<tspan font-size="13.5" dy="9" stroke-width="0.1">F</tspan><tspan dy="-9"> (A)</tspan></text>
</g>
<line x1="280.45" y1="1576" x2="280.45" y2="1990.5" stroke="#000" stroke-width="2.6"/>
<line x1="331.91" y1="1576" x2="331.91" y2="1990.5" stroke="#000" stroke-width="2.6"/>
<line x1="383.36" y1="1576" x2="383.36" y2="1990.5" stroke="#000" stroke-width="2.6"/>
<line x1="434.82" y1="1576" x2="434.82" y2="1990.5" stroke="#000" stroke-width="2.6"/>
<line x1="486.27" y1="1576" x2="486.27" y2="1990.5" stroke="#000" stroke-width="2.6"/>
<line x1="537.73" y1="1576" x2="537.73" y2="1990.5" stroke="#000" stroke-width="2.6"/>
<line x1="589.18" y1="1576" x2="589.18" y2="1990.5" stroke="#000" stroke-width="2.6"/>
<line x1="640.64" y1="1576" x2="640.64" y2="1990.5" stroke="#000" stroke-width="2.6"/>
<line x1="692.09" y1="1576" x2="692.09" y2="1990.5" stroke="#000" stroke-width="2.6"/>
<line x1="743.55" y1="1576" x2="743.55" y2="1990.5" stroke="#000" stroke-width="2.6"/>
<line x1="229" y1="1886.88" x2="795" y2="1886.88" stroke="#000" stroke-width="2.6"/>
<line x1="229" y1="1783.25" x2="795" y2="1783.25" stroke="#000" stroke-width="2.6"/>
<line x1="229" y1="1679.62" x2="795" y2="1679.62" stroke="#000" stroke-width="2.6"/>
<rect x="622" y="1894.5" width="136" height="92.5" fill="#fff"/>
<rect x="229" y="1576" width="566" height="414.5" fill="none" stroke="#000" stroke-width="3.8"/>
<line x1="229" y1="1990.5" x2="229" y2="1996.5" stroke="#000" stroke-width="3.6"/>
<line x1="280.45" y1="1990.5" x2="280.45" y2="1996.5" stroke="#000" stroke-width="3.6"/>
<line x1="331.91" y1="1990.5" x2="331.91" y2="1996.5" stroke="#000" stroke-width="3.6"/>
<line x1="383.36" y1="1990.5" x2="383.36" y2="1996.5" stroke="#000" stroke-width="3.6"/>
<line x1="434.82" y1="1990.5" x2="434.82" y2="1996.5" stroke="#000" stroke-width="3.6"/>
<line x1="486.27" y1="1990.5" x2="486.27" y2="1996.5" stroke="#000" stroke-width="3.6"/>
<line x1="537.73" y1="1990.5" x2="537.73" y2="1996.5" stroke="#000" stroke-width="3.6"/>
<line x1="589.18" y1="1990.5" x2="589.18" y2="1996.5" stroke="#000" stroke-width="3.6"/>
<line x1="640.64" y1="1990.5" x2="640.64" y2="1996.5" stroke="#000" stroke-width="3.6"/>
<line x1="692.09" y1="1990.5" x2="692.09" y2="1996.5" stroke="#000" stroke-width="3.6"/>
<line x1="743.55" y1="1990.5" x2="743.55" y2="1996.5" stroke="#000" stroke-width="3.6"/>
<line x1="795" y1="1990.5" x2="795" y2="1996.5" stroke="#000" stroke-width="3.6"/>
<line x1="222" y1="1990.5" x2="229" y2="1990.5" stroke="#000" stroke-width="2.2"/>
<line x1="222" y1="1886.88" x2="229" y2="1886.88" stroke="#000" stroke-width="2.2"/>
<line x1="222" y1="1783.25" x2="229" y2="1783.25" stroke="#000" stroke-width="2.2"/>
<line x1="222" y1="1679.62" x2="229" y2="1679.62" stroke="#000" stroke-width="2.2"/>
<line x1="222" y1="1576" x2="229" y2="1576" stroke="#000" stroke-width="2.2"/>
<path d="M241.61 1866.15 L243.37 1865.42 L245.13 1864.69 L246.9 1863.95 L248.66 1863.22 L250.43 1862.48 L252.19 1861.74 L253.95 1861 L255.72 1860.27 L257.48 1859.53 L259.25 1858.79 L261.01 1858.06 L262.77 1857.32 L264.54 1856.59 L266.3 1855.86 L268.07 1855.13 L269.83 1854.4 L271.59 1853.68 L273.36 1852.96 L275.12 1852.24 L276.89 1851.52 L278.65 1850.81 L280.42 1850.11 L282.18 1849.41 L283.94 1848.71 L285.71 1848.01 L287.47 1847.32 L289.24 1846.64 L291 1845.95 L292.76 1845.27 L294.53 1844.59 L296.29 1843.91 L298.06 1843.24 L299.82 1842.57 L301.58 1841.89 L303.35 1841.22 L305.11 1840.55 L306.88 1839.88 L308.64 1839.21 L310.4 1838.53 L312.17 1837.86 L313.93 1837.19 L315.7 1836.51 L317.46 1835.83 L319.22 1835.16 L320.99 1834.47 L322.75 1833.79 L324.52 1833.1 L326.28 1832.42 L328.04 1831.72 L329.81 1831.03 L331.57 1830.32 L333.34 1829.62 L335.1 1828.91 L336.86 1828.2 L338.63 1827.48 L340.39 1826.76 L342.16 1826.04 L343.92 1825.31 L345.68 1824.58 L347.45 1823.85 L349.21 1823.12 L350.98 1822.38 L352.74 1821.65 L354.5 1820.91 L356.27 1820.17 L358.03 1819.44 L359.8 1818.7 L361.56 1817.96 L363.32 1817.22 L365.09 1816.48 L366.85 1815.74 L368.62 1815 L370.38 1814.27 L372.14 1813.53 L373.91 1812.8 L375.67 1812.07 L377.44 1811.34 L379.2 1810.61 L380.96 1809.89 L382.73 1809.17 L384.49 1808.45 L386.26 1807.73 L388.02 1807.02 L389.79 1806.31 L391.55 1805.6 L393.31 1804.89 L395.08 1804.18 L396.84 1803.47 L398.61 1802.77 L400.37 1802.06 L402.13 1801.36 L403.9 1800.66 L405.66 1799.95 L407.43 1799.25 L409.19 1798.55 L410.95 1797.85 L412.72 1797.15 L414.48 1796.45 L416.25 1795.75 L418.01 1795.05 L419.77 1794.34 L421.54 1793.64 L423.3 1792.94 L425.07 1792.24 L426.83 1791.53 L428.59 1790.83 L430.36 1790.12 L432.12 1789.41 L433.89 1788.7 L435.65 1787.99 L437.41 1787.28 L439.18 1786.57 L440.94 1785.87 L442.71 1785.16 L444.47 1784.45 L446.23 1783.75 L448 1783.05 L449.76 1782.34 L451.53 1781.64 L453.29 1780.94 L455.05 1780.24 L456.82 1779.53 L458.58 1778.83 L460.35 1778.12 L462.11 1777.41 L463.87 1776.7 L465.64 1775.99 L467.4 1775.28 L469.17 1774.56 L470.93 1773.84 L472.69 1773.12 L474.46 1772.4 L476.22 1771.67 L477.99 1770.93 L479.75 1770.2 L481.51 1769.46 L483.28 1768.71 L485.04 1767.96 L486.81 1767.2 L488.57 1766.44 L490.34 1765.67 L492.1 1764.89 L493.86 1764.1 L495.63 1763.31 L497.39 1762.51 L499.16 1761.7 L500.92 1760.89 L502.68 1760.07 L504.45 1759.25 L506.21 1758.43 L507.98 1757.6 L509.74 1756.77 L511.5 1755.94 L513.27 1755.11 L515.03 1754.28 L516.8 1753.45 L518.56 1752.62 L520.32 1751.79 L522.09 1750.96 L523.85 1750.13 L525.62 1749.31 L527.38 1748.49 L529.14 1747.68 L530.91 1746.87 L532.67 1746.07 L534.44 1745.27 L536.2 1744.48 L537.96 1743.69 L539.73 1742.92 L541.49 1742.14 L543.26 1741.37 L545.02 1740.6 L546.78 1739.83 L548.55 1739.07 L550.31 1738.3 L552.08 1737.54 L553.84 1736.78 L555.6 1736.03 L557.37 1735.27 L559.13 1734.52 L560.9 1733.77 L562.66 1733.02 L564.42 1732.27 L566.19 1731.53 L567.95 1730.79 L569.72 1730.05 L571.48 1729.31 L573.24 1728.57 L575.01 1727.84 L576.77 1727.1 L578.54 1726.37 L580.3 1725.65 L582.06 1724.92 L583.83 1724.2 L585.59 1723.47 L587.36 1722.75 L589.12 1722.04 L590.88 1721.32 L592.65 1720.6 L594.41 1719.89 L596.18 1719.18 L597.94 1718.47 L599.71 1717.76 L601.47 1717.06 L603.23 1716.36 L605 1715.65 L606.76 1714.95 L608.53 1714.26 L610.29 1713.56 L612.05 1712.87 L613.82 1712.17 L615.58 1711.48 L617.35 1710.79 L619.11 1710.11 L620.87 1709.42 L622.64 1708.74 L624.4 1708.06 L626.17 1707.38 L627.93 1706.7 L629.69 1706.03 L631.46 1705.35 L633.22 1704.68 L634.99 1704.01 L636.75 1703.35 L638.51 1702.68 L640.28 1702.02 L642.04 1701.36 L643.81 1700.69 L645.57 1700.03 L647.33 1699.36 L649.1 1698.69 L650.86 1698.02 L652.63 1697.36 L654.39 1696.69 L656.15 1696.02 L657.92 1695.35 L659.68 1694.69 L661.45 1694.03 L663.21 1693.37 L664.97 1692.71 L666.74 1692.06 L668.5 1691.41 L670.27 1690.76 L672.03 1690.12 L673.79 1689.49 L675.56 1688.86 L677.32 1688.23 L679.09 1687.61 L680.85 1687 L682.61 1686.4 L684.38 1685.81 L686.14 1685.22 L687.91 1684.64 L689.67 1684.07 L691.43 1683.51 L693.2 1682.96 L694.96 1682.43 L696.73 1681.9 L698.49 1681.38 L700.26 1680.87 L702.02 1680.37 L703.78 1679.88 L705.55 1679.39 L707.31 1678.91 L709.08 1678.43 L710.84 1677.96 L712.6 1677.5 L714.37 1677.03 L716.13 1676.57 L717.9 1676.12 L719.66 1675.66 L721.42 1675.2 L723.19 1674.75 L724.95 1674.29 L726.72 1673.83 L728.48 1673.37 L730.24 1672.91 L732.01 1672.44 L733.77 1671.97 L735.54 1671.5 L737.3 1671.02 L739.06 1670.53 L740.83 1670.04 L742.59 1669.54 L744.36 1669.03 L746.12 1668.51 L747.88 1667.99 L749.65 1667.46 L751.41 1666.93 L753.18 1666.4 L754.94 1665.86 L756.7 1665.32 L758.47 1664.77 L760.23 1664.23 L762 1663.68 L763.76 1663.14 L765.52 1662.59 L767.29 1662.05 L769.05 1661.51 L770.82 1660.97" fill="none" stroke="#000" stroke-width="4.6" stroke-linecap="round" stroke-linejoin="round"/>
<text x="205.5" y="1996.6" font-size="18" stroke="#fff" stroke-width="0.25" text-anchor="end" textLength="22.02" lengthAdjust="spacingAndGlyphs">0.8</text>
<text x="205.5" y="1892.97" font-size="18" stroke="#fff" stroke-width="0.25" text-anchor="end" textLength="22.02" lengthAdjust="spacingAndGlyphs">0.9</text>
<text x="205.5" y="1789.35" font-size="18" stroke="#fff" stroke-width="0.25" text-anchor="end" textLength="8.81" lengthAdjust="spacingAndGlyphs">1</text>
<text x="205.5" y="1685.72" font-size="18" stroke="#fff" stroke-width="0.25" text-anchor="end" textLength="22.02" lengthAdjust="spacingAndGlyphs">1.1</text>
<text x="205.5" y="1582.1" font-size="18" stroke="#fff" stroke-width="0.25" text-anchor="end" textLength="22.02" lengthAdjust="spacingAndGlyphs">1.2</text>
<text x="229" y="2032" font-size="18" stroke="#fff" stroke-width="0.25" text-anchor="middle" textLength="22.89" lengthAdjust="spacingAndGlyphs">-60</text>
<text x="280.45" y="2032" font-size="18" stroke="#fff" stroke-width="0.25" text-anchor="middle" textLength="22.89" lengthAdjust="spacingAndGlyphs">-40</text>
<text x="331.91" y="2032" font-size="18" stroke="#fff" stroke-width="0.25" text-anchor="middle" textLength="22.89" lengthAdjust="spacingAndGlyphs">-20</text>
<text x="383.36" y="2032" font-size="18" stroke="#fff" stroke-width="0.25" text-anchor="middle" textLength="8.81" lengthAdjust="spacingAndGlyphs">0</text>
<text x="434.82" y="2032" font-size="18" stroke="#fff" stroke-width="0.25" text-anchor="middle" textLength="17.62" lengthAdjust="spacingAndGlyphs">20</text>
<text x="486.27" y="2032" font-size="18" stroke="#fff" stroke-width="0.25" text-anchor="middle" textLength="17.62" lengthAdjust="spacingAndGlyphs">40</text>
<text x="537.73" y="2032" font-size="18" stroke="#fff" stroke-width="0.25" text-anchor="middle" textLength="17.62" lengthAdjust="spacingAndGlyphs">60</text>
<text x="589.18" y="2032" font-size="18" stroke="#fff" stroke-width="0.25" text-anchor="middle" textLength="17.62" lengthAdjust="spacingAndGlyphs">80</text>
<text x="640.64" y="2032" font-size="18" stroke="#fff" stroke-width="0.25" text-anchor="middle" textLength="26.43" lengthAdjust="spacingAndGlyphs">100</text>
<text x="692.09" y="2032" font-size="18" stroke="#fff" stroke-width="0.25" text-anchor="middle" textLength="26.43" lengthAdjust="spacingAndGlyphs">120</text>
<text x="743.55" y="2032" font-size="18" stroke="#fff" stroke-width="0.25" text-anchor="middle" textLength="26.43" lengthAdjust="spacingAndGlyphs">140</text>
<text x="795" y="2032" font-size="18" stroke="#fff" stroke-width="0.25" text-anchor="middle" textLength="26.43" lengthAdjust="spacingAndGlyphs">160</text>
<text x="631" y="1921" font-size="16.5" stroke="#fff" stroke-width="0.25">V<tspan font-size="10.5" dy="7" stroke-width="0.1">GS</tspan><tspan dy="-7">=0 V</tspan></text>
<text x="631" y="1944.7" font-size="16.5" stroke="#fff" stroke-width="0.25">I<tspan font-size="10.5" dy="7" stroke-width="0.1">DS</tspan><tspan dy="-7">=0.25 mA</tspan></text>
<text x="631" y="1967.8" font-size="16.5" stroke="#fff" stroke-width="0.25">Pulse test</text>
<text x="421.5" y="2089.3" font-size="22" stroke="#fff" stroke-width="0.25">Temperature T<tspan font-size="13" dy="7.4" stroke-width="0.1">j</tspan><tspan dy="-7.4" dx="3.5"> (°C)</tspan></text>
<g transform="translate(172 1857) rotate(-90)">
<text x="0" y="0" font-size="22" stroke="#fff" stroke-width="0.25">BV<tspan font-size="14" dy="2.7" stroke-width="0.1">DSS</tspan><tspan dy="-2.7"> (Normalized)</tspan></text>
</g>
<line x1="985.18" y1="1576" x2="985.18" y2="1989" stroke="#000" stroke-width="2.6"/>
<line x1="1036.36" y1="1576" x2="1036.36" y2="1989" stroke="#000" stroke-width="2.6"/>
<line x1="1087.55" y1="1576" x2="1087.55" y2="1989" stroke="#000" stroke-width="2.6"/>
<line x1="1138.73" y1="1576" x2="1138.73" y2="1989" stroke="#000" stroke-width="2.6"/>
<line x1="1189.91" y1="1576" x2="1189.91" y2="1989" stroke="#000" stroke-width="2.6"/>
<line x1="1241.09" y1="1576" x2="1241.09" y2="1989" stroke="#000" stroke-width="2.6"/>
<line x1="1292.27" y1="1576" x2="1292.27" y2="1989" stroke="#000" stroke-width="2.6"/>
<line x1="1343.45" y1="1576" x2="1343.45" y2="1989" stroke="#000" stroke-width="2.6"/>
<line x1="1394.64" y1="1576" x2="1394.64" y2="1989" stroke="#000" stroke-width="2.6"/>
<line x1="1445.82" y1="1576" x2="1445.82" y2="1989" stroke="#000" stroke-width="2.6"/>
<line x1="934" y1="1920.17" x2="1497" y2="1920.17" stroke="#000" stroke-width="2.6"/>
<line x1="934" y1="1851.33" x2="1497" y2="1851.33" stroke="#000" stroke-width="2.6"/>
<line x1="934" y1="1782.5" x2="1497" y2="1782.5" stroke="#000" stroke-width="2.6"/>
<line x1="934" y1="1713.67" x2="1497" y2="1713.67" stroke="#000" stroke-width="2.6"/>
<line x1="934" y1="1644.83" x2="1497" y2="1644.83" stroke="#000" stroke-width="2.6"/>
<rect x="1332" y="1888.5" width="142" height="91" fill="#fff"/>
<rect x="934" y="1576" width="563" height="413" fill="none" stroke="#000" stroke-width="3.8"/>
<line x1="934" y1="1989" x2="934" y2="1995" stroke="#000" stroke-width="3.6"/>
<line x1="985.18" y1="1989" x2="985.18" y2="1995" stroke="#000" stroke-width="3.6"/>
<line x1="1036.36" y1="1989" x2="1036.36" y2="1995" stroke="#000" stroke-width="3.6"/>
<line x1="1087.55" y1="1989" x2="1087.55" y2="1995" stroke="#000" stroke-width="3.6"/>
<line x1="1138.73" y1="1989" x2="1138.73" y2="1995" stroke="#000" stroke-width="3.6"/>
<line x1="1189.91" y1="1989" x2="1189.91" y2="1995" stroke="#000" stroke-width="3.6"/>
<line x1="1241.09" y1="1989" x2="1241.09" y2="1995" stroke="#000" stroke-width="3.6"/>
<line x1="1292.27" y1="1989" x2="1292.27" y2="1995" stroke="#000" stroke-width="3.6"/>
<line x1="1343.45" y1="1989" x2="1343.45" y2="1995" stroke="#000" stroke-width="3.6"/>
<line x1="1394.64" y1="1989" x2="1394.64" y2="1995" stroke="#000" stroke-width="3.6"/>
<line x1="1445.82" y1="1989" x2="1445.82" y2="1995" stroke="#000" stroke-width="3.6"/>
<line x1="1497" y1="1989" x2="1497" y2="1995" stroke="#000" stroke-width="3.6"/>
<line x1="928" y1="1989" x2="934" y2="1989" stroke="#000" stroke-width="3.6"/>
<line x1="928" y1="1920.17" x2="934" y2="1920.17" stroke="#000" stroke-width="3.6"/>
<line x1="928" y1="1851.33" x2="934" y2="1851.33" stroke="#000" stroke-width="3.6"/>
<line x1="928" y1="1782.5" x2="934" y2="1782.5" stroke="#000" stroke-width="3.6"/>
<line x1="928" y1="1713.67" x2="934" y2="1713.67" stroke="#000" stroke-width="3.6"/>
<line x1="928" y1="1644.83" x2="934" y2="1644.83" stroke="#000" stroke-width="3.6"/>
<line x1="928" y1="1576" x2="934" y2="1576" stroke="#000" stroke-width="3.6"/>
<path d="M946.54 1929.94 L948.29 1929.34 L950.04 1928.73 L951.78 1928.13 L953.53 1927.53 L955.28 1926.93 L957.03 1926.34 L958.77 1925.74 L960.52 1925.14 L962.27 1924.55 L964.02 1923.95 L965.77 1923.35 L967.51 1922.75 L969.26 1922.15 L971.01 1921.55 L972.76 1920.94 L974.51 1920.33 L976.25 1919.72 L978 1919.11 L979.75 1918.49 L981.5 1917.87 L983.24 1917.24 L984.99 1916.61 L986.74 1915.98 L988.49 1915.33 L990.24 1914.69 L991.98 1914.04 L993.73 1913.39 L995.48 1912.73 L997.23 1912.07 L998.98 1911.41 L1000.72 1910.74 L1002.47 1910.07 L1004.22 1909.4 L1005.97 1908.72 L1007.71 1908.05 L1009.46 1907.37 L1011.21 1906.69 L1012.96 1906.01 L1014.71 1905.33 L1016.45 1904.65 L1018.2 1903.97 L1019.95 1903.29 L1021.7 1902.61 L1023.45 1901.93 L1025.19 1901.25 L1026.94 1900.58 L1028.69 1899.9 L1030.44 1899.23 L1032.18 1898.55 L1033.93 1897.88 L1035.68 1897.22 L1037.43 1896.55 L1039.18 1895.89 L1040.92 1895.23 L1042.67 1894.58 L1044.42 1893.93 L1046.17 1893.28 L1047.92 1892.63 L1049.66 1891.98 L1051.41 1891.33 L1053.16 1890.69 L1054.91 1890.04 L1056.65 1889.4 L1058.4 1888.75 L1060.15 1888.11 L1061.9 1887.46 L1063.65 1886.82 L1065.39 1886.17 L1067.14 1885.52 L1068.89 1884.86 L1070.64 1884.21 L1072.39 1883.55 L1074.13 1882.89 L1075.88 1882.23 L1077.63 1881.56 L1079.38 1880.89 L1081.12 1880.21 L1082.87 1879.53 L1084.62 1878.84 L1086.37 1878.15 L1088.12 1877.46 L1089.86 1876.75 L1091.61 1876.05 L1093.36 1875.34 L1095.11 1874.63 L1096.86 1873.91 L1098.6 1873.19 L1100.35 1872.47 L1102.1 1871.74 L1103.85 1871.01 L1105.59 1870.28 L1107.34 1869.54 L1109.09 1868.81 L1110.84 1868.06 L1112.59 1867.32 L1114.33 1866.57 L1116.08 1865.82 L1117.83 1865.07 L1119.58 1864.31 L1121.33 1863.55 L1123.07 1862.79 L1124.82 1862.02 L1126.57 1861.26 L1128.32 1860.49 L1130.06 1859.71 L1131.81 1858.94 L1133.56 1858.16 L1135.31 1857.38 L1137.06 1856.6 L1138.8 1855.82 L1140.55 1855.03 L1142.3 1854.25 L1144.05 1853.46 L1145.8 1852.67 L1147.54 1851.87 L1149.29 1851.08 L1151.04 1850.28 L1152.79 1849.48 L1154.53 1848.67 L1156.28 1847.86 L1158.03 1847.06 L1159.78 1846.24 L1161.53 1845.43 L1163.27 1844.61 L1165.02 1843.78 L1166.77 1842.96 L1168.52 1842.13 L1170.27 1841.3 L1172.01 1840.46 L1173.76 1839.62 L1175.51 1838.77 L1177.26 1837.92 L1179 1837.07 L1180.75 1836.21 L1182.5 1835.35 L1184.25 1834.48 L1186 1833.61 L1187.74 1832.73 L1189.49 1831.85 L1191.24 1830.96 L1192.99 1830.07 L1194.74 1829.17 L1196.48 1828.27 L1198.23 1827.36 L1199.98 1826.45 L1201.73 1825.53 L1203.47 1824.61 L1205.22 1823.68 L1206.97 1822.75 L1208.72 1821.81 L1210.47 1820.87 L1212.21 1819.92 L1213.96 1818.97 L1215.71 1818.02 L1217.46 1817.06 L1219.21 1816.09 L1220.95 1815.13 L1222.7 1814.16 L1224.45 1813.18 L1226.2 1812.2 L1227.94 1811.22 L1229.69 1810.23 L1231.44 1809.24 L1233.19 1808.25 L1234.94 1807.25 L1236.68 1806.25 L1238.43 1805.25 L1240.18 1804.25 L1241.93 1803.24 L1243.68 1802.23 L1245.42 1801.21 L1247.17 1800.2 L1248.92 1799.18 L1250.67 1798.16 L1252.41 1797.14 L1254.16 1796.12 L1255.91 1795.09 L1257.66 1794.05 L1259.41 1793.02 L1261.15 1791.97 L1262.9 1790.93 L1264.65 1789.88 L1266.4 1788.82 L1268.15 1787.76 L1269.89 1786.69 L1271.64 1785.62 L1273.39 1784.54 L1275.14 1783.45 L1276.88 1782.36 L1278.63 1781.26 L1280.38 1780.15 L1282.13 1779.03 L1283.88 1777.91 L1285.62 1776.77 L1287.37 1775.63 L1289.12 1774.48 L1290.87 1773.32 L1292.62 1772.15 L1294.36 1770.97 L1296.11 1769.78 L1297.86 1768.57 L1299.61 1767.35 L1301.35 1766.13 L1303.1 1764.89 L1304.85 1763.64 L1306.6 1762.38 L1308.35 1761.11 L1310.09 1759.83 L1311.84 1758.55 L1313.59 1757.25 L1315.34 1755.95 L1317.09 1754.64 L1318.83 1753.33 L1320.58 1752 L1322.33 1750.68 L1324.08 1749.34 L1325.82 1748 L1327.57 1746.66 L1329.32 1745.31 L1331.07 1743.96 L1332.82 1742.61 L1334.56 1741.25 L1336.31 1739.89 L1338.06 1738.53 L1339.81 1737.16 L1341.56 1735.8 L1343.3 1734.43 L1345.05 1733.07 L1346.8 1731.69 L1348.55 1730.31 L1350.29 1728.93 L1352.04 1727.53 L1353.79 1726.13 L1355.54 1724.73 L1357.29 1723.32 L1359.03 1721.91 L1360.78 1720.49 L1362.53 1719.07 L1364.28 1717.64 L1366.03 1716.2 L1367.77 1714.77 L1369.52 1713.33 L1371.27 1711.88 L1373.02 1710.43 L1374.77 1708.98 L1376.51 1707.52 L1378.26 1706.06 L1380.01 1704.6 L1381.76 1703.13 L1383.5 1701.66 L1385.25 1700.19 L1387 1698.72 L1388.75 1697.24 L1390.5 1695.76 L1392.24 1694.28 L1393.99 1692.8 L1395.74 1691.31 L1397.49 1689.8 L1399.24 1688.29 L1400.98 1686.76 L1402.73 1685.22 L1404.48 1683.67 L1406.23 1682.12 L1407.97 1680.55 L1409.72 1678.99 L1411.47 1677.41 L1413.22 1675.84 L1414.97 1674.26 L1416.71 1672.68 L1418.46 1671.1 L1420.21 1669.52 L1421.96 1667.94 L1423.71 1666.37 L1425.45 1664.81 L1427.2 1663.25 L1428.95 1661.7 L1430.7 1660.16 L1432.44 1658.63 L1434.19 1657.11 L1435.94 1655.6 L1437.69 1654.11 L1439.44 1652.63 L1441.18 1651.17 L1442.93 1649.72 L1444.68 1648.3 L1446.43 1646.89 L1448.18 1645.51 L1449.92 1644.14 L1451.67 1642.79 L1453.42 1641.45 L1455.17 1640.13 L1456.91 1638.81 L1458.66 1637.5 L1460.41 1636.19 L1462.16 1634.88 L1463.91 1633.58 L1465.65 1632.27 L1467.4 1630.96 L1469.15 1629.64 L1470.9 1628.31" fill="none" stroke="#000" stroke-width="4.6" stroke-linecap="round" stroke-linejoin="round"/>
<text x="911" y="1995.1" font-size="18" stroke="#fff" stroke-width="0.25" text-anchor="end" textLength="8.81" lengthAdjust="spacingAndGlyphs">0</text>
<text x="911" y="1926.27" font-size="18" stroke="#fff" stroke-width="0.25" text-anchor="end" textLength="22.02" lengthAdjust="spacingAndGlyphs">0.5</text>
<text x="911" y="1857.43" font-size="18" stroke="#fff" stroke-width="0.25" text-anchor="end" textLength="8.81" lengthAdjust="spacingAndGlyphs">1</text>
<text x="911" y="1788.6" font-size="18" stroke="#fff" stroke-width="0.25" text-anchor="end" textLength="22.02" lengthAdjust="spacingAndGlyphs">1.5</text>
<text x="911" y="1719.77" font-size="18" stroke="#fff" stroke-width="0.25" text-anchor="end" textLength="8.81" lengthAdjust="spacingAndGlyphs">2</text>
<text x="911" y="1650.93" font-size="18" stroke="#fff" stroke-width="0.25" text-anchor="end" textLength="22.02" lengthAdjust="spacingAndGlyphs">2.5</text>
<text x="911" y="1582.1" font-size="18" stroke="#fff" stroke-width="0.25" text-anchor="end" textLength="8.81" lengthAdjust="spacingAndGlyphs">3</text>
<text x="934" y="2031" font-size="18" stroke="#fff" stroke-width="0.25" text-anchor="middle" textLength="22.89" lengthAdjust="spacingAndGlyphs">-60</text>
<text x="985.18" y="2031" font-size="18" stroke="#fff" stroke-width="0.25" text-anchor="middle" textLength="22.89" lengthAdjust="spacingAndGlyphs">-40</text>
<text x="1036.36" y="2031" font-size="18" stroke="#fff" stroke-width="0.25" text-anchor="middle" textLength="22.89" lengthAdjust="spacingAndGlyphs">-20</text>
<text x="1087.55" y="2031" font-size="18" stroke="#fff" stroke-width="0.25" text-anchor="middle" textLength="8.81" lengthAdjust="spacingAndGlyphs">0</text>
<text x="1138.73" y="2031" font-size="18" stroke="#fff" stroke-width="0.25" text-anchor="middle" textLength="17.62" lengthAdjust="spacingAndGlyphs">20</text>
<text x="1189.91" y="2031" font-size="18" stroke="#fff" stroke-width="0.25" text-anchor="middle" textLength="17.62" lengthAdjust="spacingAndGlyphs">40</text>
<text x="1241.09" y="2031" font-size="18" stroke="#fff" stroke-width="0.25" text-anchor="middle" textLength="17.62" lengthAdjust="spacingAndGlyphs">60</text>
<text x="1292.27" y="2031" font-size="18" stroke="#fff" stroke-width="0.25" text-anchor="middle" textLength="17.62" lengthAdjust="spacingAndGlyphs">80</text>
<text x="1343.45" y="2031" font-size="18" stroke="#fff" stroke-width="0.25" text-anchor="middle" textLength="26.43" lengthAdjust="spacingAndGlyphs">100</text>
<text x="1394.64" y="2031" font-size="18" stroke="#fff" stroke-width="0.25" text-anchor="middle" textLength="26.43" lengthAdjust="spacingAndGlyphs">120</text>
<text x="1445.82" y="2031" font-size="18" stroke="#fff" stroke-width="0.25" text-anchor="middle" textLength="26.43" lengthAdjust="spacingAndGlyphs">140</text>
<text x="1497" y="2031" font-size="18" stroke="#fff" stroke-width="0.25" text-anchor="middle" textLength="26.43" lengthAdjust="spacingAndGlyphs">160</text>
<text x="1352" y="1915" font-size="16.5" stroke="#fff" stroke-width="0.25">V<tspan font-size="10.5" dy="6.5" stroke-width="0.1">GS</tspan><tspan dy="-6.5">=10 V</tspan></text>
<text x="1352" y="1938" font-size="16.5" stroke="#fff" stroke-width="0.25">I<tspan font-size="10.5" dy="6.5" stroke-width="0.1">DS</tspan><tspan dy="-6.5">=1.5 A</tspan></text>
<text x="1352" y="1962" font-size="16.5" stroke="#fff" stroke-width="0.25">Pulse test</text>
<text x="1131.5" y="2083.2" font-size="22" stroke="#fff" stroke-width="0.25">Temperature T<tspan font-size="13" dy="7.4" stroke-width="0.1">j</tspan><tspan dy="-7.4" dx="3.5"> (°C)</tspan></text>
<g transform="translate(879.8 1863) rotate(-90)">
<text x="0" y="0" font-size="22" stroke="#fff" stroke-width="0.25">R<tspan font-size="13.7" dy="3.2" stroke-width="0.1">DS(ON)</tspan><tspan dy="-3.2"> (Normalized)</tspan></text>
</g>
<text x="159.2" y="840" font-size="27.6" stroke="#fff" stroke-width="0.25">Figure 1.On-Region Characteristics</text>
<text x="872.5" y="840.2" font-size="27.6" stroke="#fff" stroke-width="0.25">Figure 2. Transfer Characteristics</text>
<text x="159.2" y="1489.5" font-size="27.6" stroke="#fff" stroke-width="0.25">Figure 3. Static Drain-Source On Resistance</text>
<text x="874" y="1489.5" font-size="27.6" stroke="#fff" stroke-width="0.25">Figure 4. Body- Diode Forward Characteristics</text>
<text x="159.2" y="2139.5" font-size="27.6" stroke="#fff" stroke-width="0.25">Figure 5. Normalized BV<tspan font-size="19" font-weight="bold" dy="4">DSS</tspan><tspan dy="-4"> vs. Temperature</tspan></text>
<text x="875.5" y="2139.5" font-size="27.6" stroke="#fff" stroke-width="0.25">Figure 6. Normalized R<tspan font-size="19" font-weight="bold" dy="4">DS(on)</tspan><tspan dy="-4"> vs. Temperature</tspan></text>
</svg></body></html>
